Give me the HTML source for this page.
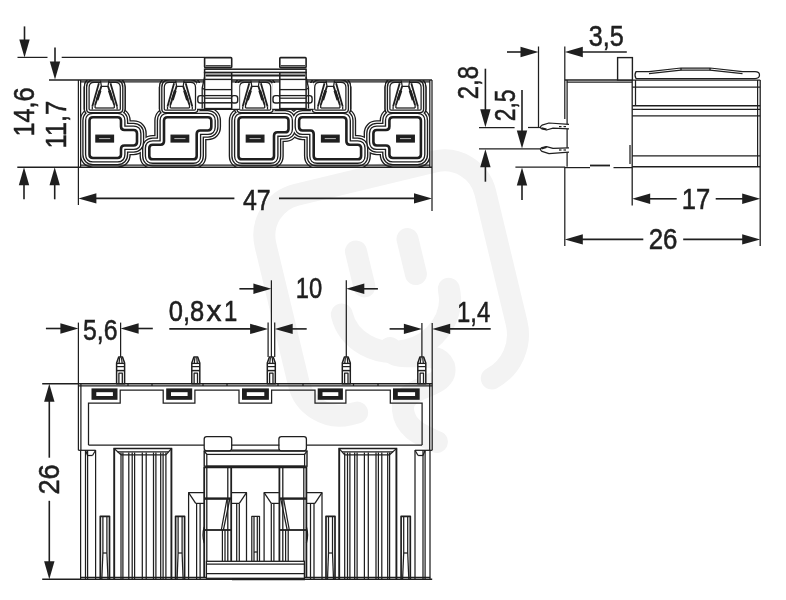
<!DOCTYPE html>
<html><head><meta charset="utf-8"><title>drawing</title>
<style>
html,body{margin:0;padding:0;background:#fff;}
body{width:786px;height:600px;overflow:hidden;}
svg{display:block;will-change:transform;filter:grayscale(1);}
text{font-family:"Liberation Sans",sans-serif;fill:#1f1f1f;stroke:#1f1f1f;stroke-width:0.55px;}
</style></head><body>
<svg width="786" height="600" viewBox="0 0 786 600">
<rect width="786" height="600" fill="#fff"/>
<g transform="translate(392,288) rotate(-13.5)" fill="none" stroke="#f3f3f3" stroke-width="22" stroke-linecap="round" stroke-linejoin="round">
<path d="M-63.0,113.0 H-71.0 A42.0,42.0 0 0 1 -113.0,71.0 V-71.0 A42.0,42.0 0 0 1 -71.0,-113.0 H71.0 A42.0,42.0 0 0 1 113.0,-71.0 V63.0 A50.0,50.0 0 0 1 75.9,111.3"/>
<path d="M-26.5,-44 V-8"/><path d="M26.5,-44 V-8"/>
<path d="M-55,14 A55,50 0 0 0 55,14"/>
</g>
<path d="M390,348 C394,366 436,346 444,366 C450,390 400,384 403,410 C405,430 424,436 437,442" fill="none" stroke="#f3f3f3" stroke-width="22" stroke-linecap="round"/>
<clipPath id="cpf"><rect x="80.60000000000001" y="80.0" width="349.20000000000005" height="87.30000000000001"/></clipPath>
<g clip-path="url(#cpf)">
<path d="M89.50,120.60 Q89.50,117.20 92.90,117.20 L117.60,117.20 Q121.00,117.20 121.00,120.60 L121.00,126.60 Q121.00,130.00 124.40,130.00 L133.60,130.00 Q137.00,130.00 137.00,133.40 L137.00,142.10 Q137.00,145.50 133.60,145.50 L124.40,145.50 Q121.00,145.50 121.00,148.90 L121.00,154.60 Q121.00,158.00 117.60,158.00 L92.90,158.00 Q89.50,158.00 89.50,154.60 Z" fill="none" stroke="#1f1f1f" stroke-width="19.55" stroke-linejoin="round" />
<path d="M164.00,120.60 Q164.00,117.20 167.40,117.20 L207.90,117.20 Q211.30,117.20 211.30,120.60 L211.30,127.10 Q211.30,130.50 207.90,130.50 L200.10,130.50 Q196.70,130.50 196.70,133.90 L196.70,155.90 Q196.70,159.30 193.30,159.30 L152.70,159.30 Q149.30,159.30 149.30,155.90 L149.30,148.10 Q149.30,144.70 152.70,144.70 L160.60,144.70 Q164.00,144.70 164.00,141.30 Z" fill="none" stroke="#1f1f1f" stroke-width="19.55" stroke-linejoin="round" />
<path d="M238.50,120.60 Q238.50,117.20 241.90,117.20 L285.10,117.20 Q288.50,117.20 288.50,120.60 L288.50,128.90 Q288.50,132.30 285.10,132.30 L277.40,132.30 Q274.00,132.30 274.00,135.70 L274.00,155.90 Q274.00,159.30 270.60,159.30 L241.90,159.30 Q238.50,159.30 238.50,155.90 Z" fill="none" stroke="#1f1f1f" stroke-width="19.55" stroke-linejoin="round" />
<path d="M346.40,141.30 Q346.40,144.70 349.80,144.70 L357.70,144.70 Q361.10,144.70 361.10,148.10 L361.10,155.90 Q361.10,159.30 357.70,159.30 L317.10,159.30 Q313.70,159.30 313.70,155.90 L313.70,133.90 Q313.70,130.50 310.30,130.50 L302.50,130.50 Q299.10,130.50 299.10,127.10 L299.10,120.60 Q299.10,117.20 302.50,117.20 L343.00,117.20 Q346.40,117.20 346.40,120.60 Z" fill="none" stroke="#1f1f1f" stroke-width="19.55" stroke-linejoin="round" />
<path d="M420.90,154.60 Q420.90,158.00 417.50,158.00 L392.80,158.00 Q389.40,158.00 389.40,154.60 L389.40,148.90 Q389.40,145.50 386.00,145.50 L376.80,145.50 Q373.40,145.50 373.40,142.10 L373.40,133.40 Q373.40,130.00 376.80,130.00 L386.00,130.00 Q389.40,130.00 389.40,126.60 L389.40,120.60 Q389.40,117.20 392.80,117.20 L417.50,117.20 Q420.90,117.20 420.90,120.60 Z" fill="none" stroke="#1f1f1f" stroke-width="19.55" stroke-linejoin="round" />
<path d="M89.10000000000001,87.3 Q89.10000000000001,82.3 94.10000000000001,82.3 H115.3 Q120.3,82.3 120.3,87.3 V109 Q120.3,110.2 119.1,110.2 H90.30000000000001 Q89.10000000000001,110.2 89.10000000000001,109 Z" fill="none" stroke="#1f1f1f" stroke-width="10.95" stroke-linejoin="round" />
<path d="M164.3,87.3 Q164.3,82.3 169.3,82.3 H190.5 Q195.5,82.3 195.5,87.3 V109 Q195.5,110.2 194.3,110.2 H165.5 Q164.3,110.2 164.3,109 Z" fill="none" stroke="#1f1f1f" stroke-width="10.95" stroke-linejoin="round" />
<path d="M239.5,87.3 Q239.5,82.3 244.5,82.3 H265.7 Q270.7,82.3 270.7,87.3 V109 Q270.7,110.2 269.5,110.2 H240.7 Q239.5,110.2 239.5,109 Z" fill="none" stroke="#1f1f1f" stroke-width="10.95" stroke-linejoin="round" />
<path d="M314.7,87.3 Q314.7,82.3 319.7,82.3 H340.90000000000003 Q345.90000000000003,82.3 345.90000000000003,87.3 V109 Q345.90000000000003,110.2 344.70000000000005,110.2 H315.9 Q314.7,110.2 314.7,109 Z" fill="none" stroke="#1f1f1f" stroke-width="10.95" stroke-linejoin="round" />
<path d="M389.9,87.3 Q389.9,82.3 394.9,82.3 H416.1 Q421.1,82.3 421.1,87.3 V109 Q421.1,110.2 419.90000000000003,110.2 H391.09999999999997 Q389.9,110.2 389.9,109 Z" fill="none" stroke="#1f1f1f" stroke-width="10.95" stroke-linejoin="round" />
<path d="M89.50,120.60 Q89.50,117.20 92.90,117.20 L117.60,117.20 Q121.00,117.20 121.00,120.60 L121.00,126.60 Q121.00,130.00 124.40,130.00 L133.60,130.00 Q137.00,130.00 137.00,133.40 L137.00,142.10 Q137.00,145.50 133.60,145.50 L124.40,145.50 Q121.00,145.50 121.00,148.90 L121.00,154.60 Q121.00,158.00 117.60,158.00 L92.90,158.00 Q89.50,158.00 89.50,154.60 Z" fill="#fff" stroke="#fff" stroke-width="16.849999999999998" stroke-linejoin="round" />
<path d="M164.00,120.60 Q164.00,117.20 167.40,117.20 L207.90,117.20 Q211.30,117.20 211.30,120.60 L211.30,127.10 Q211.30,130.50 207.90,130.50 L200.10,130.50 Q196.70,130.50 196.70,133.90 L196.70,155.90 Q196.70,159.30 193.30,159.30 L152.70,159.30 Q149.30,159.30 149.30,155.90 L149.30,148.10 Q149.30,144.70 152.70,144.70 L160.60,144.70 Q164.00,144.70 164.00,141.30 Z" fill="#fff" stroke="#fff" stroke-width="16.849999999999998" stroke-linejoin="round" />
<path d="M238.50,120.60 Q238.50,117.20 241.90,117.20 L285.10,117.20 Q288.50,117.20 288.50,120.60 L288.50,128.90 Q288.50,132.30 285.10,132.30 L277.40,132.30 Q274.00,132.30 274.00,135.70 L274.00,155.90 Q274.00,159.30 270.60,159.30 L241.90,159.30 Q238.50,159.30 238.50,155.90 Z" fill="#fff" stroke="#fff" stroke-width="16.849999999999998" stroke-linejoin="round" />
<path d="M346.40,141.30 Q346.40,144.70 349.80,144.70 L357.70,144.70 Q361.10,144.70 361.10,148.10 L361.10,155.90 Q361.10,159.30 357.70,159.30 L317.10,159.30 Q313.70,159.30 313.70,155.90 L313.70,133.90 Q313.70,130.50 310.30,130.50 L302.50,130.50 Q299.10,130.50 299.10,127.10 L299.10,120.60 Q299.10,117.20 302.50,117.20 L343.00,117.20 Q346.40,117.20 346.40,120.60 Z" fill="#fff" stroke="#fff" stroke-width="16.849999999999998" stroke-linejoin="round" />
<path d="M420.90,154.60 Q420.90,158.00 417.50,158.00 L392.80,158.00 Q389.40,158.00 389.40,154.60 L389.40,148.90 Q389.40,145.50 386.00,145.50 L376.80,145.50 Q373.40,145.50 373.40,142.10 L373.40,133.40 Q373.40,130.00 376.80,130.00 L386.00,130.00 Q389.40,130.00 389.40,126.60 L389.40,120.60 Q389.40,117.20 392.80,117.20 L417.50,117.20 Q420.90,117.20 420.90,120.60 Z" fill="#fff" stroke="#fff" stroke-width="16.849999999999998" stroke-linejoin="round" />
<path d="M89.10000000000001,87.3 Q89.10000000000001,82.3 94.10000000000001,82.3 H115.3 Q120.3,82.3 120.3,87.3 V109 Q120.3,110.2 119.1,110.2 H90.30000000000001 Q89.10000000000001,110.2 89.10000000000001,109 Z" fill="#fff" stroke="#fff" stroke-width="8.25" stroke-linejoin="round" />
<path d="M164.3,87.3 Q164.3,82.3 169.3,82.3 H190.5 Q195.5,82.3 195.5,87.3 V109 Q195.5,110.2 194.3,110.2 H165.5 Q164.3,110.2 164.3,109 Z" fill="#fff" stroke="#fff" stroke-width="8.25" stroke-linejoin="round" />
<path d="M239.5,87.3 Q239.5,82.3 244.5,82.3 H265.7 Q270.7,82.3 270.7,87.3 V109 Q270.7,110.2 269.5,110.2 H240.7 Q239.5,110.2 239.5,109 Z" fill="#fff" stroke="#fff" stroke-width="8.25" stroke-linejoin="round" />
<path d="M314.7,87.3 Q314.7,82.3 319.7,82.3 H340.90000000000003 Q345.90000000000003,82.3 345.90000000000003,87.3 V109 Q345.90000000000003,110.2 344.70000000000005,110.2 H315.9 Q314.7,110.2 314.7,109 Z" fill="#fff" stroke="#fff" stroke-width="8.25" stroke-linejoin="round" />
<path d="M389.9,87.3 Q389.9,82.3 394.9,82.3 H416.1 Q421.1,82.3 421.1,87.3 V109 Q421.1,110.2 419.90000000000003,110.2 H391.09999999999997 Q389.9,110.2 389.9,109 Z" fill="#fff" stroke="#fff" stroke-width="8.25" stroke-linejoin="round" />
<path d="M89.50,120.60 Q89.50,117.20 92.90,117.20 L117.60,117.20 Q121.00,117.20 121.00,120.60 L121.00,126.60 Q121.00,130.00 124.40,130.00 L133.60,130.00 Q137.00,130.00 137.00,133.40 L137.00,142.10 Q137.00,145.50 133.60,145.50 L124.40,145.50 Q121.00,145.50 121.00,148.90 L121.00,154.60 Q121.00,158.00 117.60,158.00 L92.90,158.00 Q89.50,158.00 89.50,154.60 Z" fill="none" stroke="#1f1f1f" stroke-width="14.549999999999999" stroke-linejoin="round" />
<path d="M164.00,120.60 Q164.00,117.20 167.40,117.20 L207.90,117.20 Q211.30,117.20 211.30,120.60 L211.30,127.10 Q211.30,130.50 207.90,130.50 L200.10,130.50 Q196.70,130.50 196.70,133.90 L196.70,155.90 Q196.70,159.30 193.30,159.30 L152.70,159.30 Q149.30,159.30 149.30,155.90 L149.30,148.10 Q149.30,144.70 152.70,144.70 L160.60,144.70 Q164.00,144.70 164.00,141.30 Z" fill="none" stroke="#1f1f1f" stroke-width="14.549999999999999" stroke-linejoin="round" />
<path d="M238.50,120.60 Q238.50,117.20 241.90,117.20 L285.10,117.20 Q288.50,117.20 288.50,120.60 L288.50,128.90 Q288.50,132.30 285.10,132.30 L277.40,132.30 Q274.00,132.30 274.00,135.70 L274.00,155.90 Q274.00,159.30 270.60,159.30 L241.90,159.30 Q238.50,159.30 238.50,155.90 Z" fill="none" stroke="#1f1f1f" stroke-width="14.549999999999999" stroke-linejoin="round" />
<path d="M346.40,141.30 Q346.40,144.70 349.80,144.70 L357.70,144.70 Q361.10,144.70 361.10,148.10 L361.10,155.90 Q361.10,159.30 357.70,159.30 L317.10,159.30 Q313.70,159.30 313.70,155.90 L313.70,133.90 Q313.70,130.50 310.30,130.50 L302.50,130.50 Q299.10,130.50 299.10,127.10 L299.10,120.60 Q299.10,117.20 302.50,117.20 L343.00,117.20 Q346.40,117.20 346.40,120.60 Z" fill="none" stroke="#1f1f1f" stroke-width="14.549999999999999" stroke-linejoin="round" />
<path d="M420.90,154.60 Q420.90,158.00 417.50,158.00 L392.80,158.00 Q389.40,158.00 389.40,154.60 L389.40,148.90 Q389.40,145.50 386.00,145.50 L376.80,145.50 Q373.40,145.50 373.40,142.10 L373.40,133.40 Q373.40,130.00 376.80,130.00 L386.00,130.00 Q389.40,130.00 389.40,126.60 L389.40,120.60 Q389.40,117.20 392.80,117.20 L417.50,117.20 Q420.90,117.20 420.90,120.60 Z" fill="none" stroke="#1f1f1f" stroke-width="14.549999999999999" stroke-linejoin="round" />
<path d="M89.10000000000001,87.3 Q89.10000000000001,82.3 94.10000000000001,82.3 H115.3 Q120.3,82.3 120.3,87.3 V109 Q120.3,110.2 119.1,110.2 H90.30000000000001 Q89.10000000000001,110.2 89.10000000000001,109 Z" fill="none" stroke="#1f1f1f" stroke-width="10.95" stroke-linejoin="round" />
<path d="M164.3,87.3 Q164.3,82.3 169.3,82.3 H190.5 Q195.5,82.3 195.5,87.3 V109 Q195.5,110.2 194.3,110.2 H165.5 Q164.3,110.2 164.3,109 Z" fill="none" stroke="#1f1f1f" stroke-width="10.95" stroke-linejoin="round" />
<path d="M239.5,87.3 Q239.5,82.3 244.5,82.3 H265.7 Q270.7,82.3 270.7,87.3 V109 Q270.7,110.2 269.5,110.2 H240.7 Q239.5,110.2 239.5,109 Z" fill="none" stroke="#1f1f1f" stroke-width="10.95" stroke-linejoin="round" />
<path d="M314.7,87.3 Q314.7,82.3 319.7,82.3 H340.90000000000003 Q345.90000000000003,82.3 345.90000000000003,87.3 V109 Q345.90000000000003,110.2 344.70000000000005,110.2 H315.9 Q314.7,110.2 314.7,109 Z" fill="none" stroke="#1f1f1f" stroke-width="10.95" stroke-linejoin="round" />
<path d="M389.9,87.3 Q389.9,82.3 394.9,82.3 H416.1 Q421.1,82.3 421.1,87.3 V109 Q421.1,110.2 419.90000000000003,110.2 H391.09999999999997 Q389.9,110.2 389.9,109 Z" fill="none" stroke="#1f1f1f" stroke-width="10.95" stroke-linejoin="round" />
<path d="M89.50,120.60 Q89.50,117.20 92.90,117.20 L117.60,117.20 Q121.00,117.20 121.00,120.60 L121.00,126.60 Q121.00,130.00 124.40,130.00 L133.60,130.00 Q137.00,130.00 137.00,133.40 L137.00,142.10 Q137.00,145.50 133.60,145.50 L124.40,145.50 Q121.00,145.50 121.00,148.90 L121.00,154.60 Q121.00,158.00 117.60,158.00 L92.90,158.00 Q89.50,158.00 89.50,154.60 Z" fill="#fff" stroke="#fff" stroke-width="11.85" stroke-linejoin="round" />
<path d="M164.00,120.60 Q164.00,117.20 167.40,117.20 L207.90,117.20 Q211.30,117.20 211.30,120.60 L211.30,127.10 Q211.30,130.50 207.90,130.50 L200.10,130.50 Q196.70,130.50 196.70,133.90 L196.70,155.90 Q196.70,159.30 193.30,159.30 L152.70,159.30 Q149.30,159.30 149.30,155.90 L149.30,148.10 Q149.30,144.70 152.70,144.70 L160.60,144.70 Q164.00,144.70 164.00,141.30 Z" fill="#fff" stroke="#fff" stroke-width="11.85" stroke-linejoin="round" />
<path d="M238.50,120.60 Q238.50,117.20 241.90,117.20 L285.10,117.20 Q288.50,117.20 288.50,120.60 L288.50,128.90 Q288.50,132.30 285.10,132.30 L277.40,132.30 Q274.00,132.30 274.00,135.70 L274.00,155.90 Q274.00,159.30 270.60,159.30 L241.90,159.30 Q238.50,159.30 238.50,155.90 Z" fill="#fff" stroke="#fff" stroke-width="11.85" stroke-linejoin="round" />
<path d="M346.40,141.30 Q346.40,144.70 349.80,144.70 L357.70,144.70 Q361.10,144.70 361.10,148.10 L361.10,155.90 Q361.10,159.30 357.70,159.30 L317.10,159.30 Q313.70,159.30 313.70,155.90 L313.70,133.90 Q313.70,130.50 310.30,130.50 L302.50,130.50 Q299.10,130.50 299.10,127.10 L299.10,120.60 Q299.10,117.20 302.50,117.20 L343.00,117.20 Q346.40,117.20 346.40,120.60 Z" fill="#fff" stroke="#fff" stroke-width="11.85" stroke-linejoin="round" />
<path d="M420.90,154.60 Q420.90,158.00 417.50,158.00 L392.80,158.00 Q389.40,158.00 389.40,154.60 L389.40,148.90 Q389.40,145.50 386.00,145.50 L376.80,145.50 Q373.40,145.50 373.40,142.10 L373.40,133.40 Q373.40,130.00 376.80,130.00 L386.00,130.00 Q389.40,130.00 389.40,126.60 L389.40,120.60 Q389.40,117.20 392.80,117.20 L417.50,117.20 Q420.90,117.20 420.90,120.60 Z" fill="#fff" stroke="#fff" stroke-width="11.85" stroke-linejoin="round" />
<path d="M89.10000000000001,87.3 Q89.10000000000001,82.3 94.10000000000001,82.3 H115.3 Q120.3,82.3 120.3,87.3 V109 Q120.3,110.2 119.1,110.2 H90.30000000000001 Q89.10000000000001,110.2 89.10000000000001,109 Z" fill="#fff" stroke="#fff" stroke-width="8.25" stroke-linejoin="round" />
<path d="M164.3,87.3 Q164.3,82.3 169.3,82.3 H190.5 Q195.5,82.3 195.5,87.3 V109 Q195.5,110.2 194.3,110.2 H165.5 Q164.3,110.2 164.3,109 Z" fill="#fff" stroke="#fff" stroke-width="8.25" stroke-linejoin="round" />
<path d="M239.5,87.3 Q239.5,82.3 244.5,82.3 H265.7 Q270.7,82.3 270.7,87.3 V109 Q270.7,110.2 269.5,110.2 H240.7 Q239.5,110.2 239.5,109 Z" fill="#fff" stroke="#fff" stroke-width="8.25" stroke-linejoin="round" />
<path d="M314.7,87.3 Q314.7,82.3 319.7,82.3 H340.90000000000003 Q345.90000000000003,82.3 345.90000000000003,87.3 V109 Q345.90000000000003,110.2 344.70000000000005,110.2 H315.9 Q314.7,110.2 314.7,109 Z" fill="#fff" stroke="#fff" stroke-width="8.25" stroke-linejoin="round" />
<path d="M389.9,87.3 Q389.9,82.3 394.9,82.3 H416.1 Q421.1,82.3 421.1,87.3 V109 Q421.1,110.2 419.90000000000003,110.2 H391.09999999999997 Q389.9,110.2 389.9,109 Z" fill="#fff" stroke="#fff" stroke-width="8.25" stroke-linejoin="round" />
<path d="M89.50,120.60 Q89.50,117.20 92.90,117.20 L117.60,117.20 Q121.00,117.20 121.00,120.60 L121.00,126.60 Q121.00,130.00 124.40,130.00 L133.60,130.00 Q137.00,130.00 137.00,133.40 L137.00,142.10 Q137.00,145.50 133.60,145.50 L124.40,145.50 Q121.00,145.50 121.00,148.90 L121.00,154.60 Q121.00,158.00 117.60,158.00 L92.90,158.00 Q89.50,158.00 89.50,154.60 Z" fill="none" stroke="#1f1f1f" stroke-width="9.15" stroke-linejoin="round" />
<path d="M164.00,120.60 Q164.00,117.20 167.40,117.20 L207.90,117.20 Q211.30,117.20 211.30,120.60 L211.30,127.10 Q211.30,130.50 207.90,130.50 L200.10,130.50 Q196.70,130.50 196.70,133.90 L196.70,155.90 Q196.70,159.30 193.30,159.30 L152.70,159.30 Q149.30,159.30 149.30,155.90 L149.30,148.10 Q149.30,144.70 152.70,144.70 L160.60,144.70 Q164.00,144.70 164.00,141.30 Z" fill="none" stroke="#1f1f1f" stroke-width="9.15" stroke-linejoin="round" />
<path d="M238.50,120.60 Q238.50,117.20 241.90,117.20 L285.10,117.20 Q288.50,117.20 288.50,120.60 L288.50,128.90 Q288.50,132.30 285.10,132.30 L277.40,132.30 Q274.00,132.30 274.00,135.70 L274.00,155.90 Q274.00,159.30 270.60,159.30 L241.90,159.30 Q238.50,159.30 238.50,155.90 Z" fill="none" stroke="#1f1f1f" stroke-width="9.15" stroke-linejoin="round" />
<path d="M346.40,141.30 Q346.40,144.70 349.80,144.70 L357.70,144.70 Q361.10,144.70 361.10,148.10 L361.10,155.90 Q361.10,159.30 357.70,159.30 L317.10,159.30 Q313.70,159.30 313.70,155.90 L313.70,133.90 Q313.70,130.50 310.30,130.50 L302.50,130.50 Q299.10,130.50 299.10,127.10 L299.10,120.60 Q299.10,117.20 302.50,117.20 L343.00,117.20 Q346.40,117.20 346.40,120.60 Z" fill="none" stroke="#1f1f1f" stroke-width="9.15" stroke-linejoin="round" />
<path d="M420.90,154.60 Q420.90,158.00 417.50,158.00 L392.80,158.00 Q389.40,158.00 389.40,154.60 L389.40,148.90 Q389.40,145.50 386.00,145.50 L376.80,145.50 Q373.40,145.50 373.40,142.10 L373.40,133.40 Q373.40,130.00 376.80,130.00 L386.00,130.00 Q389.40,130.00 389.40,126.60 L389.40,120.60 Q389.40,117.20 392.80,117.20 L417.50,117.20 Q420.90,117.20 420.90,120.60 Z" fill="none" stroke="#1f1f1f" stroke-width="9.15" stroke-linejoin="round" />
<path d="M89.10000000000001,87.3 Q89.10000000000001,82.3 94.10000000000001,82.3 H115.3 Q120.3,82.3 120.3,87.3 V109 Q120.3,110.2 119.1,110.2 H90.30000000000001 Q89.10000000000001,110.2 89.10000000000001,109 Z" fill="none" stroke="#1f1f1f" stroke-width="6.35" stroke-linejoin="round" />
<path d="M164.3,87.3 Q164.3,82.3 169.3,82.3 H190.5 Q195.5,82.3 195.5,87.3 V109 Q195.5,110.2 194.3,110.2 H165.5 Q164.3,110.2 164.3,109 Z" fill="none" stroke="#1f1f1f" stroke-width="6.35" stroke-linejoin="round" />
<path d="M239.5,87.3 Q239.5,82.3 244.5,82.3 H265.7 Q270.7,82.3 270.7,87.3 V109 Q270.7,110.2 269.5,110.2 H240.7 Q239.5,110.2 239.5,109 Z" fill="none" stroke="#1f1f1f" stroke-width="6.35" stroke-linejoin="round" />
<path d="M314.7,87.3 Q314.7,82.3 319.7,82.3 H340.90000000000003 Q345.90000000000003,82.3 345.90000000000003,87.3 V109 Q345.90000000000003,110.2 344.70000000000005,110.2 H315.9 Q314.7,110.2 314.7,109 Z" fill="none" stroke="#1f1f1f" stroke-width="6.35" stroke-linejoin="round" />
<path d="M389.9,87.3 Q389.9,82.3 394.9,82.3 H416.1 Q421.1,82.3 421.1,87.3 V109 Q421.1,110.2 419.90000000000003,110.2 H391.09999999999997 Q389.9,110.2 389.9,109 Z" fill="none" stroke="#1f1f1f" stroke-width="6.35" stroke-linejoin="round" />
<path d="M89.50,120.60 Q89.50,117.20 92.90,117.20 L117.60,117.20 Q121.00,117.20 121.00,120.60 L121.00,126.60 Q121.00,130.00 124.40,130.00 L133.60,130.00 Q137.00,130.00 137.00,133.40 L137.00,142.10 Q137.00,145.50 133.60,145.50 L124.40,145.50 Q121.00,145.50 121.00,148.90 L121.00,154.60 Q121.00,158.00 117.60,158.00 L92.90,158.00 Q89.50,158.00 89.50,154.60 Z" fill="#fff" stroke="#fff" stroke-width="6.449999999999999" stroke-linejoin="round" />
<path d="M164.00,120.60 Q164.00,117.20 167.40,117.20 L207.90,117.20 Q211.30,117.20 211.30,120.60 L211.30,127.10 Q211.30,130.50 207.90,130.50 L200.10,130.50 Q196.70,130.50 196.70,133.90 L196.70,155.90 Q196.70,159.30 193.30,159.30 L152.70,159.30 Q149.30,159.30 149.30,155.90 L149.30,148.10 Q149.30,144.70 152.70,144.70 L160.60,144.70 Q164.00,144.70 164.00,141.30 Z" fill="#fff" stroke="#fff" stroke-width="6.449999999999999" stroke-linejoin="round" />
<path d="M238.50,120.60 Q238.50,117.20 241.90,117.20 L285.10,117.20 Q288.50,117.20 288.50,120.60 L288.50,128.90 Q288.50,132.30 285.10,132.30 L277.40,132.30 Q274.00,132.30 274.00,135.70 L274.00,155.90 Q274.00,159.30 270.60,159.30 L241.90,159.30 Q238.50,159.30 238.50,155.90 Z" fill="#fff" stroke="#fff" stroke-width="6.449999999999999" stroke-linejoin="round" />
<path d="M346.40,141.30 Q346.40,144.70 349.80,144.70 L357.70,144.70 Q361.10,144.70 361.10,148.10 L361.10,155.90 Q361.10,159.30 357.70,159.30 L317.10,159.30 Q313.70,159.30 313.70,155.90 L313.70,133.90 Q313.70,130.50 310.30,130.50 L302.50,130.50 Q299.10,130.50 299.10,127.10 L299.10,120.60 Q299.10,117.20 302.50,117.20 L343.00,117.20 Q346.40,117.20 346.40,120.60 Z" fill="#fff" stroke="#fff" stroke-width="6.449999999999999" stroke-linejoin="round" />
<path d="M420.90,154.60 Q420.90,158.00 417.50,158.00 L392.80,158.00 Q389.40,158.00 389.40,154.60 L389.40,148.90 Q389.40,145.50 386.00,145.50 L376.80,145.50 Q373.40,145.50 373.40,142.10 L373.40,133.40 Q373.40,130.00 376.80,130.00 L386.00,130.00 Q389.40,130.00 389.40,126.60 L389.40,120.60 Q389.40,117.20 392.80,117.20 L417.50,117.20 Q420.90,117.20 420.90,120.60 Z" fill="#fff" stroke="#fff" stroke-width="6.449999999999999" stroke-linejoin="round" />
<path d="M89.10000000000001,87.3 Q89.10000000000001,82.3 94.10000000000001,82.3 H115.3 Q120.3,82.3 120.3,87.3 V109 Q120.3,110.2 119.1,110.2 H90.30000000000001 Q89.10000000000001,110.2 89.10000000000001,109 Z" fill="#fff" stroke="#fff" stroke-width="3.65" stroke-linejoin="round" />
<path d="M164.3,87.3 Q164.3,82.3 169.3,82.3 H190.5 Q195.5,82.3 195.5,87.3 V109 Q195.5,110.2 194.3,110.2 H165.5 Q164.3,110.2 164.3,109 Z" fill="#fff" stroke="#fff" stroke-width="3.65" stroke-linejoin="round" />
<path d="M239.5,87.3 Q239.5,82.3 244.5,82.3 H265.7 Q270.7,82.3 270.7,87.3 V109 Q270.7,110.2 269.5,110.2 H240.7 Q239.5,110.2 239.5,109 Z" fill="#fff" stroke="#fff" stroke-width="3.65" stroke-linejoin="round" />
<path d="M314.7,87.3 Q314.7,82.3 319.7,82.3 H340.90000000000003 Q345.90000000000003,82.3 345.90000000000003,87.3 V109 Q345.90000000000003,110.2 344.70000000000005,110.2 H315.9 Q314.7,110.2 314.7,109 Z" fill="#fff" stroke="#fff" stroke-width="3.65" stroke-linejoin="round" />
<path d="M389.9,87.3 Q389.9,82.3 394.9,82.3 H416.1 Q421.1,82.3 421.1,87.3 V109 Q421.1,110.2 419.90000000000003,110.2 H391.09999999999997 Q389.9,110.2 389.9,109 Z" fill="#fff" stroke="#fff" stroke-width="3.65" stroke-linejoin="round" />
</g>
<path d="M89.10000000000001,87.3 Q89.10000000000001,82.3 94.10000000000001,82.3 H115.3 Q120.3,82.3 120.3,87.3 V109 Q120.3,110.2 119.1,110.2 H90.30000000000001 Q89.10000000000001,110.2 89.10000000000001,109 Z" fill="#fff" stroke="#1f1f1f" stroke-width="1.25" stroke-linejoin="round" />
<path d="M164.3,87.3 Q164.3,82.3 169.3,82.3 H190.5 Q195.5,82.3 195.5,87.3 V109 Q195.5,110.2 194.3,110.2 H165.5 Q164.3,110.2 164.3,109 Z" fill="#fff" stroke="#1f1f1f" stroke-width="1.25" stroke-linejoin="round" />
<path d="M239.5,87.3 Q239.5,82.3 244.5,82.3 H265.7 Q270.7,82.3 270.7,87.3 V109 Q270.7,110.2 269.5,110.2 H240.7 Q239.5,110.2 239.5,109 Z" fill="#fff" stroke="#1f1f1f" stroke-width="1.25" stroke-linejoin="round" />
<path d="M314.7,87.3 Q314.7,82.3 319.7,82.3 H340.90000000000003 Q345.90000000000003,82.3 345.90000000000003,87.3 V109 Q345.90000000000003,110.2 344.70000000000005,110.2 H315.9 Q314.7,110.2 314.7,109 Z" fill="#fff" stroke="#1f1f1f" stroke-width="1.25" stroke-linejoin="round" />
<path d="M389.9,87.3 Q389.9,82.3 394.9,82.3 H416.1 Q421.1,82.3 421.1,87.3 V109 Q421.1,110.2 419.90000000000003,110.2 H391.09999999999997 Q389.9,110.2 389.9,109 Z" fill="#fff" stroke="#1f1f1f" stroke-width="1.25" stroke-linejoin="round" />
<path d="M89.50,120.60 Q89.50,117.20 92.90,117.20 L117.60,117.20 Q121.00,117.20 121.00,120.60 L121.00,126.60 Q121.00,130.00 124.40,130.00 L133.60,130.00 Q137.00,130.00 137.00,133.40 L137.00,142.10 Q137.00,145.50 133.60,145.50 L124.40,145.50 Q121.00,145.50 121.00,148.90 L121.00,154.60 Q121.00,158.00 117.60,158.00 L92.90,158.00 Q89.50,158.00 89.50,154.60 Z" fill="#fff" stroke="#1f1f1f" stroke-width="2.6" stroke-linejoin="round" />
<path d="M164.00,120.60 Q164.00,117.20 167.40,117.20 L207.90,117.20 Q211.30,117.20 211.30,120.60 L211.30,127.10 Q211.30,130.50 207.90,130.50 L200.10,130.50 Q196.70,130.50 196.70,133.90 L196.70,155.90 Q196.70,159.30 193.30,159.30 L152.70,159.30 Q149.30,159.30 149.30,155.90 L149.30,148.10 Q149.30,144.70 152.70,144.70 L160.60,144.70 Q164.00,144.70 164.00,141.30 Z" fill="#fff" stroke="#1f1f1f" stroke-width="2.6" stroke-linejoin="round" />
<path d="M238.50,120.60 Q238.50,117.20 241.90,117.20 L285.10,117.20 Q288.50,117.20 288.50,120.60 L288.50,128.90 Q288.50,132.30 285.10,132.30 L277.40,132.30 Q274.00,132.30 274.00,135.70 L274.00,155.90 Q274.00,159.30 270.60,159.30 L241.90,159.30 Q238.50,159.30 238.50,155.90 Z" fill="#fff" stroke="#1f1f1f" stroke-width="2.6" stroke-linejoin="round" />
<path d="M346.40,141.30 Q346.40,144.70 349.80,144.70 L357.70,144.70 Q361.10,144.70 361.10,148.10 L361.10,155.90 Q361.10,159.30 357.70,159.30 L317.10,159.30 Q313.70,159.30 313.70,155.90 L313.70,133.90 Q313.70,130.50 310.30,130.50 L302.50,130.50 Q299.10,130.50 299.10,127.10 L299.10,120.60 Q299.10,117.20 302.50,117.20 L343.00,117.20 Q346.40,117.20 346.40,120.60 Z" fill="#fff" stroke="#1f1f1f" stroke-width="2.6" stroke-linejoin="round" />
<path d="M420.90,154.60 Q420.90,158.00 417.50,158.00 L392.80,158.00 Q389.40,158.00 389.40,154.60 L389.40,148.90 Q389.40,145.50 386.00,145.50 L376.80,145.50 Q373.40,145.50 373.40,142.10 L373.40,133.40 Q373.40,130.00 376.80,130.00 L386.00,130.00 Q389.40,130.00 389.40,126.60 L389.40,120.60 Q389.40,117.20 392.80,117.20 L417.50,117.20 Q420.90,117.20 420.90,120.60 Z" fill="#fff" stroke="#1f1f1f" stroke-width="2.6" stroke-linejoin="round" />
<path d="M100.50,80.50 L101.40,86.30 L108.00,86.30 L108.90,80.50" fill="#fff" stroke="#1f1f1f" stroke-width="1.25" stroke-linejoin="round" />
<line x1="98.90" y1="83.20" x2="92.30" y2="106.50" stroke="#1f1f1f" stroke-width="1.8" stroke-linecap="butt"/>
<line x1="101.40" y1="86.30" x2="95.10" y2="105.00" stroke="#1f1f1f" stroke-width="1.9" stroke-linecap="butt"/>
<line x1="100.10" y1="90.50" x2="97.10" y2="100.00" stroke="#1f1f1f" stroke-width="2.8" stroke-linecap="butt"/>
<line x1="92.30" y1="106.50" x2="92.30" y2="109.50" stroke="#1f1f1f" stroke-width="1.25" stroke-linecap="butt"/>
<line x1="95.10" y1="105.00" x2="95.10" y2="108.00" stroke="#1f1f1f" stroke-width="1.25" stroke-linecap="butt"/>
<line x1="110.50" y1="83.20" x2="117.10" y2="106.50" stroke="#1f1f1f" stroke-width="1.8" stroke-linecap="butt"/>
<line x1="108.00" y1="86.30" x2="114.30" y2="105.00" stroke="#1f1f1f" stroke-width="1.9" stroke-linecap="butt"/>
<line x1="109.30" y1="90.50" x2="112.30" y2="100.00" stroke="#1f1f1f" stroke-width="2.8" stroke-linecap="butt"/>
<line x1="117.10" y1="106.50" x2="117.10" y2="109.50" stroke="#1f1f1f" stroke-width="1.25" stroke-linecap="butt"/>
<line x1="114.30" y1="105.00" x2="114.30" y2="108.00" stroke="#1f1f1f" stroke-width="1.25" stroke-linecap="butt"/>
<line x1="95.10" y1="108.00" x2="114.30" y2="108.00" stroke="#1f1f1f" stroke-width="1.25" stroke-linecap="butt"/>
<rect x="95.90" y="135.20" width="17.60" height="6.80" rx="0" fill="#1f1f1f" stroke="#1f1f1f" stroke-width="1.25"/>
<line x1="98.50" y1="138.60" x2="110.90" y2="138.60" stroke="#ccc" stroke-width="0.9" stroke-linecap="butt"/>
<line x1="98.50" y1="137.20" x2="98.50" y2="140.00" stroke="#1f1f1f" stroke-width="1.25" stroke-linecap="butt"/>
<line x1="110.90" y1="137.20" x2="110.90" y2="140.00" stroke="#1f1f1f" stroke-width="1.25" stroke-linecap="butt"/>
<path d="M175.70,80.50 L176.60,86.30 L183.20,86.30 L184.10,80.50" fill="#fff" stroke="#1f1f1f" stroke-width="1.25" stroke-linejoin="round" />
<line x1="174.10" y1="83.20" x2="167.50" y2="106.50" stroke="#1f1f1f" stroke-width="1.8" stroke-linecap="butt"/>
<line x1="176.60" y1="86.30" x2="170.30" y2="105.00" stroke="#1f1f1f" stroke-width="1.9" stroke-linecap="butt"/>
<line x1="175.30" y1="90.50" x2="172.30" y2="100.00" stroke="#1f1f1f" stroke-width="2.8" stroke-linecap="butt"/>
<line x1="167.50" y1="106.50" x2="167.50" y2="109.50" stroke="#1f1f1f" stroke-width="1.25" stroke-linecap="butt"/>
<line x1="170.30" y1="105.00" x2="170.30" y2="108.00" stroke="#1f1f1f" stroke-width="1.25" stroke-linecap="butt"/>
<line x1="185.70" y1="83.20" x2="192.30" y2="106.50" stroke="#1f1f1f" stroke-width="1.8" stroke-linecap="butt"/>
<line x1="183.20" y1="86.30" x2="189.50" y2="105.00" stroke="#1f1f1f" stroke-width="1.9" stroke-linecap="butt"/>
<line x1="184.50" y1="90.50" x2="187.50" y2="100.00" stroke="#1f1f1f" stroke-width="2.8" stroke-linecap="butt"/>
<line x1="192.30" y1="106.50" x2="192.30" y2="109.50" stroke="#1f1f1f" stroke-width="1.25" stroke-linecap="butt"/>
<line x1="189.50" y1="105.00" x2="189.50" y2="108.00" stroke="#1f1f1f" stroke-width="1.25" stroke-linecap="butt"/>
<line x1="170.30" y1="108.00" x2="189.50" y2="108.00" stroke="#1f1f1f" stroke-width="1.25" stroke-linecap="butt"/>
<rect x="171.10" y="135.20" width="17.60" height="6.80" rx="0" fill="#1f1f1f" stroke="#1f1f1f" stroke-width="1.25"/>
<line x1="173.70" y1="138.60" x2="186.10" y2="138.60" stroke="#ccc" stroke-width="0.9" stroke-linecap="butt"/>
<line x1="173.70" y1="137.20" x2="173.70" y2="140.00" stroke="#1f1f1f" stroke-width="1.25" stroke-linecap="butt"/>
<line x1="186.10" y1="137.20" x2="186.10" y2="140.00" stroke="#1f1f1f" stroke-width="1.25" stroke-linecap="butt"/>
<path d="M250.90,80.50 L251.80,86.30 L258.40,86.30 L259.30,80.50" fill="#fff" stroke="#1f1f1f" stroke-width="1.25" stroke-linejoin="round" />
<line x1="249.30" y1="83.20" x2="242.70" y2="106.50" stroke="#1f1f1f" stroke-width="1.8" stroke-linecap="butt"/>
<line x1="251.80" y1="86.30" x2="245.50" y2="105.00" stroke="#1f1f1f" stroke-width="1.9" stroke-linecap="butt"/>
<line x1="250.50" y1="90.50" x2="247.50" y2="100.00" stroke="#1f1f1f" stroke-width="2.8" stroke-linecap="butt"/>
<line x1="242.70" y1="106.50" x2="242.70" y2="109.50" stroke="#1f1f1f" stroke-width="1.25" stroke-linecap="butt"/>
<line x1="245.50" y1="105.00" x2="245.50" y2="108.00" stroke="#1f1f1f" stroke-width="1.25" stroke-linecap="butt"/>
<line x1="260.90" y1="83.20" x2="267.50" y2="106.50" stroke="#1f1f1f" stroke-width="1.8" stroke-linecap="butt"/>
<line x1="258.40" y1="86.30" x2="264.70" y2="105.00" stroke="#1f1f1f" stroke-width="1.9" stroke-linecap="butt"/>
<line x1="259.70" y1="90.50" x2="262.70" y2="100.00" stroke="#1f1f1f" stroke-width="2.8" stroke-linecap="butt"/>
<line x1="267.50" y1="106.50" x2="267.50" y2="109.50" stroke="#1f1f1f" stroke-width="1.25" stroke-linecap="butt"/>
<line x1="264.70" y1="105.00" x2="264.70" y2="108.00" stroke="#1f1f1f" stroke-width="1.25" stroke-linecap="butt"/>
<line x1="245.50" y1="108.00" x2="264.70" y2="108.00" stroke="#1f1f1f" stroke-width="1.25" stroke-linecap="butt"/>
<rect x="246.30" y="135.20" width="17.60" height="6.80" rx="0" fill="#1f1f1f" stroke="#1f1f1f" stroke-width="1.25"/>
<line x1="248.90" y1="138.60" x2="261.30" y2="138.60" stroke="#ccc" stroke-width="0.9" stroke-linecap="butt"/>
<line x1="248.90" y1="137.20" x2="248.90" y2="140.00" stroke="#1f1f1f" stroke-width="1.25" stroke-linecap="butt"/>
<line x1="261.30" y1="137.20" x2="261.30" y2="140.00" stroke="#1f1f1f" stroke-width="1.25" stroke-linecap="butt"/>
<path d="M326.10,80.50 L327.00,86.30 L333.60,86.30 L334.50,80.50" fill="#fff" stroke="#1f1f1f" stroke-width="1.25" stroke-linejoin="round" />
<line x1="324.50" y1="83.20" x2="317.90" y2="106.50" stroke="#1f1f1f" stroke-width="1.8" stroke-linecap="butt"/>
<line x1="327.00" y1="86.30" x2="320.70" y2="105.00" stroke="#1f1f1f" stroke-width="1.9" stroke-linecap="butt"/>
<line x1="325.70" y1="90.50" x2="322.70" y2="100.00" stroke="#1f1f1f" stroke-width="2.8" stroke-linecap="butt"/>
<line x1="317.90" y1="106.50" x2="317.90" y2="109.50" stroke="#1f1f1f" stroke-width="1.25" stroke-linecap="butt"/>
<line x1="320.70" y1="105.00" x2="320.70" y2="108.00" stroke="#1f1f1f" stroke-width="1.25" stroke-linecap="butt"/>
<line x1="336.10" y1="83.20" x2="342.70" y2="106.50" stroke="#1f1f1f" stroke-width="1.8" stroke-linecap="butt"/>
<line x1="333.60" y1="86.30" x2="339.90" y2="105.00" stroke="#1f1f1f" stroke-width="1.9" stroke-linecap="butt"/>
<line x1="334.90" y1="90.50" x2="337.90" y2="100.00" stroke="#1f1f1f" stroke-width="2.8" stroke-linecap="butt"/>
<line x1="342.70" y1="106.50" x2="342.70" y2="109.50" stroke="#1f1f1f" stroke-width="1.25" stroke-linecap="butt"/>
<line x1="339.90" y1="105.00" x2="339.90" y2="108.00" stroke="#1f1f1f" stroke-width="1.25" stroke-linecap="butt"/>
<line x1="320.70" y1="108.00" x2="339.90" y2="108.00" stroke="#1f1f1f" stroke-width="1.25" stroke-linecap="butt"/>
<rect x="321.50" y="135.20" width="17.60" height="6.80" rx="0" fill="#1f1f1f" stroke="#1f1f1f" stroke-width="1.25"/>
<line x1="324.10" y1="138.60" x2="336.50" y2="138.60" stroke="#ccc" stroke-width="0.9" stroke-linecap="butt"/>
<line x1="324.10" y1="137.20" x2="324.10" y2="140.00" stroke="#1f1f1f" stroke-width="1.25" stroke-linecap="butt"/>
<line x1="336.50" y1="137.20" x2="336.50" y2="140.00" stroke="#1f1f1f" stroke-width="1.25" stroke-linecap="butt"/>
<path d="M401.30,80.50 L402.20,86.30 L408.80,86.30 L409.70,80.50" fill="#fff" stroke="#1f1f1f" stroke-width="1.25" stroke-linejoin="round" />
<line x1="399.70" y1="83.20" x2="393.10" y2="106.50" stroke="#1f1f1f" stroke-width="1.8" stroke-linecap="butt"/>
<line x1="402.20" y1="86.30" x2="395.90" y2="105.00" stroke="#1f1f1f" stroke-width="1.9" stroke-linecap="butt"/>
<line x1="400.90" y1="90.50" x2="397.90" y2="100.00" stroke="#1f1f1f" stroke-width="2.8" stroke-linecap="butt"/>
<line x1="393.10" y1="106.50" x2="393.10" y2="109.50" stroke="#1f1f1f" stroke-width="1.25" stroke-linecap="butt"/>
<line x1="395.90" y1="105.00" x2="395.90" y2="108.00" stroke="#1f1f1f" stroke-width="1.25" stroke-linecap="butt"/>
<line x1="411.30" y1="83.20" x2="417.90" y2="106.50" stroke="#1f1f1f" stroke-width="1.8" stroke-linecap="butt"/>
<line x1="408.80" y1="86.30" x2="415.10" y2="105.00" stroke="#1f1f1f" stroke-width="1.9" stroke-linecap="butt"/>
<line x1="410.10" y1="90.50" x2="413.10" y2="100.00" stroke="#1f1f1f" stroke-width="2.8" stroke-linecap="butt"/>
<line x1="417.90" y1="106.50" x2="417.90" y2="109.50" stroke="#1f1f1f" stroke-width="1.25" stroke-linecap="butt"/>
<line x1="415.10" y1="105.00" x2="415.10" y2="108.00" stroke="#1f1f1f" stroke-width="1.25" stroke-linecap="butt"/>
<line x1="395.90" y1="108.00" x2="415.10" y2="108.00" stroke="#1f1f1f" stroke-width="1.25" stroke-linecap="butt"/>
<rect x="396.70" y="135.20" width="17.60" height="6.80" rx="0" fill="#1f1f1f" stroke="#1f1f1f" stroke-width="1.25"/>
<line x1="399.30" y1="138.60" x2="411.70" y2="138.60" stroke="#ccc" stroke-width="0.9" stroke-linecap="butt"/>
<line x1="399.30" y1="137.20" x2="399.30" y2="140.00" stroke="#1f1f1f" stroke-width="1.25" stroke-linecap="butt"/>
<line x1="411.70" y1="137.20" x2="411.70" y2="140.00" stroke="#1f1f1f" stroke-width="1.25" stroke-linecap="butt"/>
<line x1="49.00" y1="80.00" x2="432.00" y2="80.00" stroke="#1f1f1f" stroke-width="1.3" stroke-linecap="butt"/>
<line x1="80.40" y1="81.90" x2="430.00" y2="81.90" stroke="#1f1f1f" stroke-width="1.25" stroke-linecap="butt"/>
<line x1="78.40" y1="80.00" x2="78.40" y2="205.00" stroke="#1f1f1f" stroke-width="1.25" stroke-linecap="butt"/>
<line x1="80.60" y1="80.00" x2="80.60" y2="167.30" stroke="#1f1f1f" stroke-width="1.25" stroke-linecap="butt"/>
<line x1="432.00" y1="80.00" x2="432.00" y2="211.00" stroke="#1f1f1f" stroke-width="1.25" stroke-linecap="butt"/>
<line x1="429.80" y1="80.00" x2="429.80" y2="167.30" stroke="#1f1f1f" stroke-width="1.25" stroke-linecap="butt"/>
<line x1="17.30" y1="167.30" x2="432.00" y2="167.30" stroke="#1f1f1f" stroke-width="1.4" stroke-linecap="butt"/>
<line x1="80.40" y1="165.10" x2="430.00" y2="165.10" stroke="#1f1f1f" stroke-width="1.25" stroke-linecap="butt"/>
<line x1="17.50" y1="57.40" x2="47.50" y2="57.40" stroke="#1f1f1f" stroke-width="1.25" stroke-linecap="butt"/>
<line x1="61.70" y1="57.40" x2="205.00" y2="57.40" stroke="#1f1f1f" stroke-width="1.3" stroke-linecap="butt"/>
<rect x="197.00" y="83" width="42.30" height="26.4" fill="#fff"/>
<line x1="197.00" y1="109.40" x2="239.30" y2="109.40" stroke="#1f1f1f" stroke-width="1.25" stroke-linecap="butt"/>
<rect x="204.60" y="57.60" width="27.10" height="10.00" rx="0.8" fill="#fff" stroke="#1f1f1f" stroke-width="1.6"/>
<line x1="205.60" y1="65.80" x2="230.70" y2="65.80" stroke="#1f1f1f" stroke-width="1.25" stroke-linecap="butt"/>
<rect x="197.80" y="95.60" width="7.30" height="7.40" rx="2.6" fill="#fff" stroke="#1f1f1f" stroke-width="1.4"/>
<rect x="231.20" y="95.60" width="6.50" height="7.40" rx="2.6" fill="#fff" stroke="#1f1f1f" stroke-width="1.4"/>
<rect x="204.60" y="72.60" width="27.10" height="36.00" rx="0" fill="#fff" stroke="#1f1f1f" stroke-width="1.5"/>
<line x1="204.60" y1="79.40" x2="231.70" y2="79.40" stroke="#1f1f1f" stroke-width="1.4" stroke-linecap="butt"/>
<line x1="204.60" y1="89.60" x2="231.70" y2="89.60" stroke="#1f1f1f" stroke-width="1.3" stroke-linecap="butt"/>
<line x1="204.60" y1="95.60" x2="231.70" y2="95.60" stroke="#1f1f1f" stroke-width="1.3" stroke-linecap="butt"/>
<line x1="204.60" y1="98.20" x2="231.70" y2="98.20" stroke="#1f1f1f" stroke-width="1.25" stroke-linecap="butt"/>
<line x1="204.60" y1="102.80" x2="231.70" y2="102.80" stroke="#1f1f1f" stroke-width="1.5" stroke-linecap="butt"/>
<path d="M204.6,77 L202.2,88 V108.6" fill="none" stroke="#1f1f1f" stroke-width="1.3" stroke-linejoin="round" />
<line x1="204.60" y1="89.60" x2="202.20" y2="88.00" stroke="#1f1f1f" stroke-width="1.25" stroke-linecap="butt"/>
<rect x="272.20" y="83" width="41.50" height="26.4" fill="#fff"/>
<line x1="272.20" y1="109.40" x2="313.70" y2="109.40" stroke="#1f1f1f" stroke-width="1.25" stroke-linecap="butt"/>
<rect x="279.80" y="57.60" width="26.30" height="10.00" rx="0.8" fill="#fff" stroke="#1f1f1f" stroke-width="1.6"/>
<line x1="280.80" y1="65.80" x2="305.10" y2="65.80" stroke="#1f1f1f" stroke-width="1.25" stroke-linecap="butt"/>
<rect x="273.00" y="95.60" width="7.30" height="7.40" rx="2.6" fill="#fff" stroke="#1f1f1f" stroke-width="1.4"/>
<rect x="305.60" y="95.60" width="6.50" height="7.40" rx="2.6" fill="#fff" stroke="#1f1f1f" stroke-width="1.4"/>
<rect x="279.80" y="72.60" width="26.30" height="36.00" rx="0" fill="#fff" stroke="#1f1f1f" stroke-width="1.5"/>
<line x1="279.80" y1="79.40" x2="306.10" y2="79.40" stroke="#1f1f1f" stroke-width="1.4" stroke-linecap="butt"/>
<line x1="279.80" y1="89.60" x2="306.10" y2="89.60" stroke="#1f1f1f" stroke-width="1.3" stroke-linecap="butt"/>
<line x1="279.80" y1="95.60" x2="306.10" y2="95.60" stroke="#1f1f1f" stroke-width="1.3" stroke-linecap="butt"/>
<line x1="279.80" y1="98.20" x2="306.10" y2="98.20" stroke="#1f1f1f" stroke-width="1.25" stroke-linecap="butt"/>
<line x1="279.80" y1="102.80" x2="306.10" y2="102.80" stroke="#1f1f1f" stroke-width="1.5" stroke-linecap="butt"/>
<path d="M306.1,77 L308.5,88 V108.6" fill="none" stroke="#1f1f1f" stroke-width="1.3" stroke-linejoin="round" />
<line x1="306.10" y1="89.60" x2="308.50" y2="88.00" stroke="#1f1f1f" stroke-width="1.25" stroke-linecap="butt"/>
<rect x="204.60" y="69.20" width="101.50" height="3.20" rx="0" fill="#fff" stroke="#1f1f1f" stroke-width="1.5"/>
<line x1="205.50" y1="75.60" x2="305.20" y2="75.60" stroke="#1f1f1f" stroke-width="2.0" stroke-linecap="butt"/>
<polygon points="24.5,57.4 19.3,39.4 29.7,39.4" fill="#1f1f1f"/>
<line x1="24.50" y1="40.40" x2="24.50" y2="26.40" stroke="#1f1f1f" stroke-width="1.6" stroke-linecap="butt"/>
<polygon points="55,79.6 49.8,61.599999999999994 60.2,61.599999999999994" fill="#1f1f1f"/>
<line x1="55.00" y1="62.60" x2="55.00" y2="47.60" stroke="#1f1f1f" stroke-width="1.6" stroke-linecap="butt"/>
<polygon points="24,167.3 18.8,185.3 29.2,185.3" fill="#1f1f1f"/>
<line x1="24.00" y1="184.30" x2="24.00" y2="199.30" stroke="#1f1f1f" stroke-width="1.6" stroke-linecap="butt"/>
<polygon points="54.7,167.3 49.5,185.3 59.900000000000006,185.3" fill="#1f1f1f"/>
<line x1="54.70" y1="184.30" x2="54.70" y2="199.30" stroke="#1f1f1f" stroke-width="1.6" stroke-linecap="butt"/>
<text transform="translate(34.00,136.50) rotate(-90)" x="0" y="0" font-size="29" textLength="49.00" lengthAdjust="spacingAndGlyphs">14,6</text>
<text transform="translate(65.70,148.50) rotate(-90)" x="0" y="0" font-size="29" textLength="47.70" lengthAdjust="spacingAndGlyphs">11,7</text>
<polygon points="78.4,198.4 96.4,193.20000000000002 96.4,203.6" fill="#1f1f1f"/>
<line x1="95.40" y1="198.40" x2="234.40" y2="198.40" stroke="#1f1f1f" stroke-width="1.6" stroke-linecap="butt"/>
<polygon points="432.0,198.4 414.0,193.20000000000002 414.0,203.6" fill="#1f1f1f"/>
<line x1="415.00" y1="198.40" x2="279.00" y2="198.40" stroke="#1f1f1f" stroke-width="1.6" stroke-linecap="butt"/>
<text x="243.00" y="209.70" font-size="29" textLength="27.70" lengthAdjust="spacingAndGlyphs">47</text>
<line x1="564.80" y1="46.50" x2="564.80" y2="119.00" stroke="#1f1f1f" stroke-width="1.25" stroke-linecap="butt"/>
<line x1="564.80" y1="166.80" x2="564.80" y2="246.00" stroke="#1f1f1f" stroke-width="1.25" stroke-linecap="butt"/>
<line x1="567.10" y1="80.00" x2="567.10" y2="166.80" stroke="#1f1f1f" stroke-width="1.25" stroke-linecap="butt"/>
<line x1="564.80" y1="80.00" x2="632.20" y2="80.00" stroke="#1f1f1f" stroke-width="1.4" stroke-linecap="butt"/>
<line x1="566.80" y1="82.00" x2="632.20" y2="82.00" stroke="#1f1f1f" stroke-width="1.25" stroke-linecap="butt"/>
<line x1="564.80" y1="167.60" x2="590.00" y2="167.60" stroke="#1f1f1f" stroke-width="1.25" stroke-linecap="butt"/>
<line x1="590.00" y1="165.50" x2="610.00" y2="165.50" stroke="#1f1f1f" stroke-width="1.8" stroke-linecap="butt"/>
<line x1="613.50" y1="167.60" x2="632.20" y2="167.60" stroke="#1f1f1f" stroke-width="1.25" stroke-linecap="butt"/>
<line x1="632.20" y1="80.00" x2="632.20" y2="205.50" stroke="#1f1f1f" stroke-width="1.3" stroke-linecap="butt"/>
<line x1="635.50" y1="80.00" x2="635.50" y2="106.00" stroke="#1f1f1f" stroke-width="1.25" stroke-linecap="butt"/>
<line x1="630.00" y1="145.00" x2="630.00" y2="164.00" stroke="#1f1f1f" stroke-width="1.25" stroke-linecap="butt"/>
<rect x="617.60" y="57.60" width="14.80" height="22.40" rx="0" fill="#fff" stroke="#1f1f1f" stroke-width="1.4"/>
<line x1="632.20" y1="80.00" x2="760.20" y2="80.00" stroke="#1f1f1f" stroke-width="1.25" stroke-linecap="butt"/>
<line x1="632.20" y1="87.20" x2="760.20" y2="87.20" stroke="#1f1f1f" stroke-width="1.25" stroke-linecap="butt"/>
<line x1="632.20" y1="105.80" x2="760.20" y2="105.80" stroke="#1f1f1f" stroke-width="1.6" stroke-linecap="butt"/>
<line x1="632.20" y1="109.40" x2="760.20" y2="109.40" stroke="#1f1f1f" stroke-width="1.25" stroke-linecap="butt"/>
<line x1="632.20" y1="115.80" x2="760.20" y2="115.80" stroke="#1f1f1f" stroke-width="1.25" stroke-linecap="butt"/>
<line x1="632.20" y1="155.90" x2="760.20" y2="155.90" stroke="#1f1f1f" stroke-width="1.25" stroke-linecap="butt"/>
<line x1="632.20" y1="166.80" x2="760.20" y2="166.80" stroke="#1f1f1f" stroke-width="1.4" stroke-linecap="butt"/>
<line x1="760.20" y1="80.00" x2="760.20" y2="246.00" stroke="#1f1f1f" stroke-width="1.3" stroke-linecap="butt"/>
<line x1="757.60" y1="80.00" x2="757.60" y2="166.80" stroke="#1f1f1f" stroke-width="1.25" stroke-linecap="butt"/>
<path d="M636,71.6 L649,71.6 L681,68 L710,68 L742.5,71.6 L755,71.6 Q759.5,71.6 759.5,75 Q759.5,78.5 755,78.5 L636,78.5 Q634,75 636,71.6 Z" fill="#fff" stroke="#1f1f1f" stroke-width="1.25" stroke-linejoin="round" />
<path d="M649,73.6 L681,70.2 L710,70.2 L742.5,73.6" fill="none" stroke="#1f1f1f" stroke-width="1.25" stroke-linejoin="round" />
<line x1="681.00" y1="68.00" x2="681.00" y2="70.20" stroke="#1f1f1f" stroke-width="1.25" stroke-linecap="butt"/>
<line x1="710.00" y1="68.00" x2="710.00" y2="70.20" stroke="#1f1f1f" stroke-width="1.25" stroke-linecap="butt"/>
<path d="M569,124.4 L549,123.0 L542,125.2 Q538.8,127.4 542,129.0 L546.5,130.0 L553,128.20000000000002 L569,128.8" fill="#fff" stroke="#1f1f1f" stroke-width="1.25" stroke-linejoin="round" />
<line x1="541.50" y1="128.00" x2="546.50" y2="129.40" stroke="#1f1f1f" stroke-width="1.8" stroke-linecap="butt"/>
<line x1="559.00" y1="126.60" x2="561.50" y2="126.60" stroke="#1f1f1f" stroke-width="1.25" stroke-linecap="butt"/>
<line x1="563.50" y1="126.60" x2="566.00" y2="126.60" stroke="#1f1f1f" stroke-width="1.25" stroke-linecap="butt"/>
<path d="M569,152.2 L549,153.6 L542,151.39999999999998 Q538.8,149.2 542,147.6 L546.5,146.6 L553,148.39999999999998 L569,147.79999999999998" fill="#fff" stroke="#1f1f1f" stroke-width="1.25" stroke-linejoin="round" />
<line x1="541.50" y1="148.60" x2="546.50" y2="147.20" stroke="#1f1f1f" stroke-width="1.8" stroke-linecap="butt"/>
<line x1="559.00" y1="150.00" x2="561.50" y2="150.00" stroke="#1f1f1f" stroke-width="1.25" stroke-linecap="butt"/>
<line x1="563.50" y1="150.00" x2="566.00" y2="150.00" stroke="#1f1f1f" stroke-width="1.25" stroke-linecap="butt"/>
<line x1="479.00" y1="127.50" x2="514.60" y2="127.50" stroke="#1f1f1f" stroke-width="1.25" stroke-linecap="butt"/>
<line x1="528.00" y1="127.50" x2="540.00" y2="127.50" stroke="#1f1f1f" stroke-width="1.25" stroke-linecap="butt"/>
<line x1="479.00" y1="148.90" x2="540.00" y2="148.90" stroke="#1f1f1f" stroke-width="1.25" stroke-linecap="butt"/>
<line x1="515.40" y1="167.20" x2="564.80" y2="167.20" stroke="#1f1f1f" stroke-width="1.25" stroke-linecap="butt"/>
<line x1="538.50" y1="46.50" x2="538.50" y2="127.00" stroke="#1f1f1f" stroke-width="1.25" stroke-linecap="butt"/>
<polygon points="538.5,52 520.5,46.8 520.5,57.2" fill="#1f1f1f"/>
<line x1="521.50" y1="52.00" x2="507.00" y2="52.00" stroke="#1f1f1f" stroke-width="1.6" stroke-linecap="butt"/>
<polygon points="564.8,52 582.8,46.8 582.8,57.2" fill="#1f1f1f"/>
<line x1="581.80" y1="52.00" x2="626.80" y2="52.00" stroke="#1f1f1f" stroke-width="1.6" stroke-linecap="butt"/>
<polygon points="485.4,127.2 480.2,109.2 490.59999999999997,109.2" fill="#1f1f1f"/>
<line x1="485.40" y1="110.20" x2="485.40" y2="68.70" stroke="#1f1f1f" stroke-width="1.6" stroke-linecap="butt"/>
<polygon points="485.4,149.2 480.2,167.2 490.59999999999997,167.2" fill="#1f1f1f"/>
<line x1="485.40" y1="166.20" x2="485.40" y2="181.70" stroke="#1f1f1f" stroke-width="1.6" stroke-linecap="butt"/>
<polygon points="522,148.6 516.8,130.6 527.2,130.6" fill="#1f1f1f"/>
<line x1="522.00" y1="131.60" x2="522.00" y2="90.10" stroke="#1f1f1f" stroke-width="1.6" stroke-linecap="butt"/>
<polygon points="522,167.5 516.8,185.5 527.2,185.5" fill="#1f1f1f"/>
<line x1="522.00" y1="184.50" x2="522.00" y2="200.00" stroke="#1f1f1f" stroke-width="1.6" stroke-linecap="butt"/>
<text x="588.70" y="46.40" font-size="29" textLength="35.00" lengthAdjust="spacingAndGlyphs">3,5</text>
<text transform="translate(477.60,99.20) rotate(-90)" x="0" y="0" font-size="29" textLength="33.20" lengthAdjust="spacingAndGlyphs">2,8</text>
<text transform="translate(515.00,121.20) rotate(-90)" x="0" y="0" font-size="29" textLength="31.80" lengthAdjust="spacingAndGlyphs">2,5</text>
<polygon points="632.2,198.8 650.2,193.60000000000002 650.2,204.0" fill="#1f1f1f"/>
<line x1="649.20" y1="198.80" x2="676.70" y2="198.80" stroke="#1f1f1f" stroke-width="1.6" stroke-linecap="butt"/>
<polygon points="760.2,198.8 742.2,193.60000000000002 742.2,204.0" fill="#1f1f1f"/>
<line x1="743.20" y1="198.80" x2="715.70" y2="198.80" stroke="#1f1f1f" stroke-width="1.6" stroke-linecap="butt"/>
<text x="681.80" y="208.80" font-size="29" textLength="28.50" lengthAdjust="spacingAndGlyphs">17</text>
<polygon points="564.8,239.4 582.8,234.20000000000002 582.8,244.6" fill="#1f1f1f"/>
<line x1="581.80" y1="239.40" x2="643.30" y2="239.40" stroke="#1f1f1f" stroke-width="1.6" stroke-linecap="butt"/>
<polygon points="760.2,239.4 742.2,234.20000000000002 742.2,244.6" fill="#1f1f1f"/>
<line x1="743.20" y1="239.40" x2="683.20" y2="239.40" stroke="#1f1f1f" stroke-width="1.6" stroke-linecap="butt"/>
<text x="648.70" y="249.40" font-size="29" textLength="28.80" lengthAdjust="spacingAndGlyphs">26</text>
<path d="M118.70,357.00 L122.50,357.00 L124.60,363.00 L124.60,383.70 L116.60,383.70 L116.60,363.00 Z" fill="#fff" stroke="#1f1f1f" stroke-width="1.5" stroke-linejoin="round" />
<line x1="116.60" y1="363.40" x2="124.60" y2="363.40" stroke="#1f1f1f" stroke-width="1.3" stroke-linecap="butt"/>
<line x1="116.60" y1="366.60" x2="124.60" y2="366.60" stroke="#1f1f1f" stroke-width="1.25" stroke-linecap="butt"/>
<line x1="116.60" y1="370.60" x2="124.60" y2="370.60" stroke="#1f1f1f" stroke-width="1.5" stroke-linecap="butt"/>
<path d="M118.90,383.70 L118.90,373.20 L122.30,373.20 L122.30,383.70" fill="none" stroke="#1f1f1f" stroke-width="1.3" stroke-linejoin="round" />
<line x1="119.70" y1="357.50" x2="119.10" y2="363.00" stroke="#1f1f1f" stroke-width="1.25" stroke-linecap="butt"/>
<line x1="121.50" y1="357.50" x2="122.10" y2="363.00" stroke="#1f1f1f" stroke-width="1.25" stroke-linecap="butt"/>
<path d="M193.90,357.00 L197.70,357.00 L199.80,363.00 L199.80,383.70 L191.80,383.70 L191.80,363.00 Z" fill="#fff" stroke="#1f1f1f" stroke-width="1.5" stroke-linejoin="round" />
<line x1="191.80" y1="363.40" x2="199.80" y2="363.40" stroke="#1f1f1f" stroke-width="1.3" stroke-linecap="butt"/>
<line x1="191.80" y1="366.60" x2="199.80" y2="366.60" stroke="#1f1f1f" stroke-width="1.25" stroke-linecap="butt"/>
<line x1="191.80" y1="370.60" x2="199.80" y2="370.60" stroke="#1f1f1f" stroke-width="1.5" stroke-linecap="butt"/>
<path d="M194.10,383.70 L194.10,373.20 L197.50,373.20 L197.50,383.70" fill="none" stroke="#1f1f1f" stroke-width="1.3" stroke-linejoin="round" />
<line x1="194.90" y1="357.50" x2="194.30" y2="363.00" stroke="#1f1f1f" stroke-width="1.25" stroke-linecap="butt"/>
<line x1="196.70" y1="357.50" x2="197.30" y2="363.00" stroke="#1f1f1f" stroke-width="1.25" stroke-linecap="butt"/>
<path d="M269.40,357.00 L273.20,357.00 L275.30,363.00 L275.30,383.70 L267.30,383.70 L267.30,363.00 Z" fill="#fff" stroke="#1f1f1f" stroke-width="1.5" stroke-linejoin="round" />
<line x1="267.30" y1="363.40" x2="275.30" y2="363.40" stroke="#1f1f1f" stroke-width="1.3" stroke-linecap="butt"/>
<line x1="267.30" y1="366.60" x2="275.30" y2="366.60" stroke="#1f1f1f" stroke-width="1.25" stroke-linecap="butt"/>
<line x1="267.30" y1="370.60" x2="275.30" y2="370.60" stroke="#1f1f1f" stroke-width="1.5" stroke-linecap="butt"/>
<path d="M269.60,383.70 L269.60,373.20 L273.00,373.20 L273.00,383.70" fill="none" stroke="#1f1f1f" stroke-width="1.3" stroke-linejoin="round" />
<line x1="270.40" y1="357.50" x2="269.80" y2="363.00" stroke="#1f1f1f" stroke-width="1.25" stroke-linecap="butt"/>
<line x1="272.20" y1="357.50" x2="272.80" y2="363.00" stroke="#1f1f1f" stroke-width="1.25" stroke-linecap="butt"/>
<path d="M344.40,357.00 L348.20,357.00 L350.30,363.00 L350.30,383.70 L342.30,383.70 L342.30,363.00 Z" fill="#fff" stroke="#1f1f1f" stroke-width="1.5" stroke-linejoin="round" />
<line x1="342.30" y1="363.40" x2="350.30" y2="363.40" stroke="#1f1f1f" stroke-width="1.3" stroke-linecap="butt"/>
<line x1="342.30" y1="366.60" x2="350.30" y2="366.60" stroke="#1f1f1f" stroke-width="1.25" stroke-linecap="butt"/>
<line x1="342.30" y1="370.60" x2="350.30" y2="370.60" stroke="#1f1f1f" stroke-width="1.5" stroke-linecap="butt"/>
<path d="M344.60,383.70 L344.60,373.20 L348.00,373.20 L348.00,383.70" fill="none" stroke="#1f1f1f" stroke-width="1.3" stroke-linejoin="round" />
<line x1="345.40" y1="357.50" x2="344.80" y2="363.00" stroke="#1f1f1f" stroke-width="1.25" stroke-linecap="butt"/>
<line x1="347.20" y1="357.50" x2="347.80" y2="363.00" stroke="#1f1f1f" stroke-width="1.25" stroke-linecap="butt"/>
<path d="M419.90,357.00 L423.70,357.00 L425.80,363.00 L425.80,383.70 L417.80,383.70 L417.80,363.00 Z" fill="#fff" stroke="#1f1f1f" stroke-width="1.5" stroke-linejoin="round" />
<line x1="417.80" y1="363.40" x2="425.80" y2="363.40" stroke="#1f1f1f" stroke-width="1.3" stroke-linecap="butt"/>
<line x1="417.80" y1="366.60" x2="425.80" y2="366.60" stroke="#1f1f1f" stroke-width="1.25" stroke-linecap="butt"/>
<line x1="417.80" y1="370.60" x2="425.80" y2="370.60" stroke="#1f1f1f" stroke-width="1.5" stroke-linecap="butt"/>
<path d="M420.10,383.70 L420.10,373.20 L423.50,373.20 L423.50,383.70" fill="none" stroke="#1f1f1f" stroke-width="1.3" stroke-linejoin="round" />
<line x1="420.90" y1="357.50" x2="420.30" y2="363.00" stroke="#1f1f1f" stroke-width="1.25" stroke-linecap="butt"/>
<line x1="422.70" y1="357.50" x2="423.30" y2="363.00" stroke="#1f1f1f" stroke-width="1.25" stroke-linecap="butt"/>
<line x1="42.20" y1="383.70" x2="432.20" y2="383.70" stroke="#1f1f1f" stroke-width="1.4" stroke-linecap="butt"/>
<line x1="78.40" y1="385.90" x2="432.20" y2="385.90" stroke="#1f1f1f" stroke-width="1.25" stroke-linecap="butt"/>
<line x1="128.00" y1="383.70" x2="128.00" y2="385.90" stroke="#1f1f1f" stroke-width="1.25" stroke-linecap="butt"/>
<line x1="152.00" y1="383.70" x2="152.00" y2="385.90" stroke="#1f1f1f" stroke-width="1.25" stroke-linecap="butt"/>
<line x1="203.00" y1="383.70" x2="203.00" y2="385.90" stroke="#1f1f1f" stroke-width="1.25" stroke-linecap="butt"/>
<line x1="227.00" y1="383.70" x2="227.00" y2="385.90" stroke="#1f1f1f" stroke-width="1.25" stroke-linecap="butt"/>
<line x1="278.00" y1="383.70" x2="278.00" y2="385.90" stroke="#1f1f1f" stroke-width="1.25" stroke-linecap="butt"/>
<line x1="303.00" y1="383.70" x2="303.00" y2="385.90" stroke="#1f1f1f" stroke-width="1.25" stroke-linecap="butt"/>
<line x1="353.50" y1="383.70" x2="353.50" y2="385.90" stroke="#1f1f1f" stroke-width="1.25" stroke-linecap="butt"/>
<line x1="378.00" y1="383.70" x2="378.00" y2="385.90" stroke="#1f1f1f" stroke-width="1.25" stroke-linecap="butt"/>
<line x1="78.40" y1="322.60" x2="78.40" y2="450.30" stroke="#1f1f1f" stroke-width="1.25" stroke-linecap="butt"/>
<line x1="80.90" y1="383.70" x2="80.90" y2="450.30" stroke="#1f1f1f" stroke-width="1.25" stroke-linecap="butt"/>
<line x1="432.20" y1="323.00" x2="432.20" y2="450.30" stroke="#1f1f1f" stroke-width="1.25" stroke-linecap="butt"/>
<line x1="429.70" y1="383.70" x2="429.70" y2="450.30" stroke="#1f1f1f" stroke-width="1.25" stroke-linecap="butt"/>
<rect x="91.50" y="388.4" width="26.00" height="11.4" fill="#1f1f1f"/>
<rect x="96.30" y="392.2" width="16.60" height="3.8" fill="#fff"/>
<rect x="166.20" y="388.4" width="26.00" height="11.4" fill="#1f1f1f"/>
<rect x="171.00" y="392.2" width="16.60" height="3.8" fill="#fff"/>
<rect x="242.00" y="388.4" width="26.90" height="11.4" fill="#1f1f1f"/>
<rect x="246.80" y="392.2" width="17.50" height="3.8" fill="#fff"/>
<rect x="317.70" y="388.4" width="25.20" height="11.4" fill="#1f1f1f"/>
<rect x="322.50" y="392.2" width="15.80" height="3.8" fill="#fff"/>
<rect x="393.00" y="388.4" width="26.70" height="11.4" fill="#1f1f1f"/>
<rect x="397.80" y="392.2" width="17.30" height="3.8" fill="#fff"/>
<path d="M88.5,445.1 V403 H120.2 V390 H163.2 V403 H194.9 V390 H239.0 V403 H271.6 V390 H315.0 V403 H345.9 V390 H390.3 V403 H422.1 V445.1" fill="none" stroke="#1f1f1f" stroke-width="1.25" stroke-linejoin="miter" />
<line x1="88.50" y1="445.10" x2="204.20" y2="445.10" stroke="#1f1f1f" stroke-width="1.3" stroke-linecap="butt"/>
<line x1="306.40" y1="445.10" x2="422.10" y2="445.10" stroke="#1f1f1f" stroke-width="1.3" stroke-linecap="butt"/>
<line x1="42.20" y1="579.30" x2="432.20" y2="579.30" stroke="#1f1f1f" stroke-width="1.5" stroke-linecap="butt"/>
<line x1="80.40" y1="577.30" x2="430.20" y2="577.30" stroke="#1f1f1f" stroke-width="1.25" stroke-linecap="butt"/>
<line x1="78.40" y1="450.30" x2="95.60" y2="450.30" stroke="#1f1f1f" stroke-width="1.25" stroke-linecap="butt"/>
<line x1="80.60" y1="450.30" x2="80.60" y2="579.30" stroke="#1f1f1f" stroke-width="1.25" stroke-linecap="butt"/>
<line x1="85.50" y1="450.30" x2="85.50" y2="579.30" stroke="#1f1f1f" stroke-width="1.25" stroke-linecap="butt"/>
<line x1="87.60" y1="450.30" x2="87.60" y2="579.30" stroke="#1f1f1f" stroke-width="1.25" stroke-linecap="butt"/>
<line x1="95.60" y1="450.30" x2="95.60" y2="579.30" stroke="#1f1f1f" stroke-width="1.25" stroke-linecap="butt"/>
<line x1="85.50" y1="450.30" x2="87.60" y2="455.50" stroke="#1f1f1f" stroke-width="1.25" stroke-linecap="butt"/>
<line x1="95.60" y1="450.30" x2="92.50" y2="455.50" stroke="#1f1f1f" stroke-width="1.25" stroke-linecap="butt"/>
<line x1="87.60" y1="455.50" x2="92.50" y2="455.50" stroke="#1f1f1f" stroke-width="1.25" stroke-linecap="butt"/>
<line x1="432.20" y1="450.30" x2="415.00" y2="450.30" stroke="#1f1f1f" stroke-width="1.25" stroke-linecap="butt"/>
<line x1="430.00" y1="450.30" x2="430.00" y2="579.30" stroke="#1f1f1f" stroke-width="1.25" stroke-linecap="butt"/>
<line x1="425.10" y1="450.30" x2="425.10" y2="579.30" stroke="#1f1f1f" stroke-width="1.25" stroke-linecap="butt"/>
<line x1="423.00" y1="450.30" x2="423.00" y2="579.30" stroke="#1f1f1f" stroke-width="1.25" stroke-linecap="butt"/>
<line x1="415.00" y1="450.30" x2="415.00" y2="579.30" stroke="#1f1f1f" stroke-width="1.25" stroke-linecap="butt"/>
<line x1="425.10" y1="450.30" x2="423.00" y2="455.50" stroke="#1f1f1f" stroke-width="1.25" stroke-linecap="butt"/>
<line x1="415.00" y1="450.30" x2="418.10" y2="455.50" stroke="#1f1f1f" stroke-width="1.25" stroke-linecap="butt"/>
<line x1="423.00" y1="455.50" x2="418.10" y2="455.50" stroke="#1f1f1f" stroke-width="1.25" stroke-linecap="butt"/>
<line x1="113.40" y1="448.50" x2="172.20" y2="448.50" stroke="#1f1f1f" stroke-width="1.7" stroke-linecap="butt"/>
<line x1="121.00" y1="454.80" x2="165.90" y2="454.80" stroke="#1f1f1f" stroke-width="1.25" stroke-linecap="butt"/>
<line x1="117.50" y1="451.80" x2="168.50" y2="451.80" stroke="#1f1f1f" stroke-width="1.25" stroke-linecap="butt"/>
<line x1="114.20" y1="448.60" x2="121.00" y2="454.80" stroke="#1f1f1f" stroke-width="1.25" stroke-linecap="butt"/>
<line x1="171.40" y1="448.60" x2="165.90" y2="454.80" stroke="#1f1f1f" stroke-width="1.25" stroke-linecap="butt"/>
<line x1="114.20" y1="448.50" x2="114.20" y2="579.30" stroke="#1f1f1f" stroke-width="1.9" stroke-linecap="butt"/>
<line x1="121.00" y1="452.50" x2="121.00" y2="579.30" stroke="#1f1f1f" stroke-width="1.25" stroke-linecap="butt"/>
<line x1="122.90" y1="452.50" x2="122.90" y2="579.30" stroke="#1f1f1f" stroke-width="1.25" stroke-linecap="butt"/>
<line x1="128.80" y1="452.50" x2="128.80" y2="579.30" stroke="#1f1f1f" stroke-width="1.25" stroke-linecap="butt"/>
<line x1="132.20" y1="452.50" x2="132.20" y2="579.30" stroke="#1f1f1f" stroke-width="1.25" stroke-linecap="butt"/>
<line x1="134.60" y1="452.50" x2="134.60" y2="579.30" stroke="#1f1f1f" stroke-width="1.25" stroke-linecap="butt"/>
<line x1="142.30" y1="452.50" x2="142.30" y2="579.30" stroke="#1f1f1f" stroke-width="1.25" stroke-linecap="butt"/>
<line x1="146.20" y1="452.50" x2="146.20" y2="579.30" stroke="#1f1f1f" stroke-width="1.25" stroke-linecap="butt"/>
<line x1="153.50" y1="452.50" x2="153.50" y2="579.30" stroke="#1f1f1f" stroke-width="1.25" stroke-linecap="butt"/>
<line x1="155.90" y1="452.50" x2="155.90" y2="579.30" stroke="#1f1f1f" stroke-width="1.25" stroke-linecap="butt"/>
<line x1="160.70" y1="452.50" x2="160.70" y2="579.30" stroke="#1f1f1f" stroke-width="1.25" stroke-linecap="butt"/>
<line x1="163.10" y1="452.50" x2="163.10" y2="579.30" stroke="#1f1f1f" stroke-width="1.25" stroke-linecap="butt"/>
<line x1="165.90" y1="452.50" x2="165.90" y2="579.30" stroke="#1f1f1f" stroke-width="1.25" stroke-linecap="butt"/>
<line x1="171.40" y1="448.50" x2="171.40" y2="579.30" stroke="#1f1f1f" stroke-width="1.9" stroke-linecap="butt"/>
<line x1="397.20" y1="448.50" x2="338.40" y2="448.50" stroke="#1f1f1f" stroke-width="1.7" stroke-linecap="butt"/>
<line x1="389.60" y1="454.80" x2="344.70" y2="454.80" stroke="#1f1f1f" stroke-width="1.25" stroke-linecap="butt"/>
<line x1="393.10" y1="451.80" x2="342.10" y2="451.80" stroke="#1f1f1f" stroke-width="1.25" stroke-linecap="butt"/>
<line x1="396.40" y1="448.60" x2="389.60" y2="454.80" stroke="#1f1f1f" stroke-width="1.25" stroke-linecap="butt"/>
<line x1="339.20" y1="448.60" x2="344.70" y2="454.80" stroke="#1f1f1f" stroke-width="1.25" stroke-linecap="butt"/>
<line x1="396.40" y1="448.50" x2="396.40" y2="579.30" stroke="#1f1f1f" stroke-width="1.9" stroke-linecap="butt"/>
<line x1="389.60" y1="452.50" x2="389.60" y2="579.30" stroke="#1f1f1f" stroke-width="1.25" stroke-linecap="butt"/>
<line x1="387.70" y1="452.50" x2="387.70" y2="579.30" stroke="#1f1f1f" stroke-width="1.25" stroke-linecap="butt"/>
<line x1="381.80" y1="452.50" x2="381.80" y2="579.30" stroke="#1f1f1f" stroke-width="1.25" stroke-linecap="butt"/>
<line x1="378.40" y1="452.50" x2="378.40" y2="579.30" stroke="#1f1f1f" stroke-width="1.25" stroke-linecap="butt"/>
<line x1="376.00" y1="452.50" x2="376.00" y2="579.30" stroke="#1f1f1f" stroke-width="1.25" stroke-linecap="butt"/>
<line x1="368.30" y1="452.50" x2="368.30" y2="579.30" stroke="#1f1f1f" stroke-width="1.25" stroke-linecap="butt"/>
<line x1="364.40" y1="452.50" x2="364.40" y2="579.30" stroke="#1f1f1f" stroke-width="1.25" stroke-linecap="butt"/>
<line x1="357.10" y1="452.50" x2="357.10" y2="579.30" stroke="#1f1f1f" stroke-width="1.25" stroke-linecap="butt"/>
<line x1="354.70" y1="452.50" x2="354.70" y2="579.30" stroke="#1f1f1f" stroke-width="1.25" stroke-linecap="butt"/>
<line x1="349.90" y1="452.50" x2="349.90" y2="579.30" stroke="#1f1f1f" stroke-width="1.25" stroke-linecap="butt"/>
<line x1="347.50" y1="452.50" x2="347.50" y2="579.30" stroke="#1f1f1f" stroke-width="1.25" stroke-linecap="butt"/>
<line x1="344.70" y1="452.50" x2="344.70" y2="579.30" stroke="#1f1f1f" stroke-width="1.25" stroke-linecap="butt"/>
<line x1="339.20" y1="448.50" x2="339.20" y2="579.30" stroke="#1f1f1f" stroke-width="1.9" stroke-linecap="butt"/>
<path d="M100.30,579.30 L100.30,516.30 L109.50,516.30 L109.50,579.30" fill="none" stroke="#1f1f1f" stroke-width="1.7" stroke-linejoin="round" />
<line x1="102.90" y1="553.00" x2="106.90" y2="553.00" stroke="#1f1f1f" stroke-width="1.25" stroke-linecap="butt"/>
<line x1="102.90" y1="553.00" x2="101.80" y2="579.30" stroke="#1f1f1f" stroke-width="1.25" stroke-linecap="butt"/>
<line x1="106.90" y1="553.00" x2="108.00" y2="579.30" stroke="#1f1f1f" stroke-width="1.25" stroke-linecap="butt"/>
<line x1="102.90" y1="517.00" x2="102.90" y2="553.00" stroke="#1f1f1f" stroke-width="1.25" stroke-linecap="butt"/>
<line x1="106.90" y1="517.00" x2="106.90" y2="553.00" stroke="#1f1f1f" stroke-width="1.25" stroke-linecap="butt"/>
<path d="M175.60,579.30 L175.60,516.30 L184.60,516.30 L184.60,579.30" fill="none" stroke="#1f1f1f" stroke-width="1.7" stroke-linejoin="round" />
<line x1="178.10" y1="553.00" x2="182.10" y2="553.00" stroke="#1f1f1f" stroke-width="1.25" stroke-linecap="butt"/>
<line x1="178.10" y1="553.00" x2="177.10" y2="579.30" stroke="#1f1f1f" stroke-width="1.25" stroke-linecap="butt"/>
<line x1="182.10" y1="553.00" x2="183.10" y2="579.30" stroke="#1f1f1f" stroke-width="1.25" stroke-linecap="butt"/>
<line x1="178.10" y1="517.00" x2="178.10" y2="553.00" stroke="#1f1f1f" stroke-width="1.25" stroke-linecap="butt"/>
<line x1="182.10" y1="517.00" x2="182.10" y2="553.00" stroke="#1f1f1f" stroke-width="1.25" stroke-linecap="butt"/>
<path d="M410.30,579.30 L410.30,516.30 L401.10,516.30 L401.10,579.30" fill="none" stroke="#1f1f1f" stroke-width="1.7" stroke-linejoin="round" />
<line x1="407.70" y1="553.00" x2="403.70" y2="553.00" stroke="#1f1f1f" stroke-width="1.25" stroke-linecap="butt"/>
<line x1="407.70" y1="553.00" x2="408.80" y2="579.30" stroke="#1f1f1f" stroke-width="1.25" stroke-linecap="butt"/>
<line x1="403.70" y1="553.00" x2="402.60" y2="579.30" stroke="#1f1f1f" stroke-width="1.25" stroke-linecap="butt"/>
<line x1="407.70" y1="517.00" x2="407.70" y2="553.00" stroke="#1f1f1f" stroke-width="1.25" stroke-linecap="butt"/>
<line x1="403.70" y1="517.00" x2="403.70" y2="553.00" stroke="#1f1f1f" stroke-width="1.25" stroke-linecap="butt"/>
<path d="M335.00,579.30 L335.00,516.30 L326.00,516.30 L326.00,579.30" fill="none" stroke="#1f1f1f" stroke-width="1.7" stroke-linejoin="round" />
<line x1="332.50" y1="553.00" x2="328.50" y2="553.00" stroke="#1f1f1f" stroke-width="1.25" stroke-linecap="butt"/>
<line x1="332.50" y1="553.00" x2="333.50" y2="579.30" stroke="#1f1f1f" stroke-width="1.25" stroke-linecap="butt"/>
<line x1="328.50" y1="553.00" x2="327.50" y2="579.30" stroke="#1f1f1f" stroke-width="1.25" stroke-linecap="butt"/>
<line x1="332.50" y1="517.00" x2="332.50" y2="553.00" stroke="#1f1f1f" stroke-width="1.25" stroke-linecap="butt"/>
<line x1="328.50" y1="517.00" x2="328.50" y2="553.00" stroke="#1f1f1f" stroke-width="1.25" stroke-linecap="butt"/>
<path d="M251.80,561.00 L251.80,516.30 L259.50,516.30 L259.50,561.00" fill="none" stroke="#1f1f1f" stroke-width="1.25" stroke-linejoin="round" />
<line x1="254.00" y1="517.00" x2="254.00" y2="561.00" stroke="#1f1f1f" stroke-width="1.25" stroke-linecap="butt"/>
<line x1="257.30" y1="517.00" x2="257.30" y2="561.00" stroke="#1f1f1f" stroke-width="1.25" stroke-linecap="butt"/>
<line x1="254.00" y1="552.00" x2="257.30" y2="552.00" stroke="#1f1f1f" stroke-width="1.25" stroke-linecap="butt"/>
<path d="M188.60,579.30 L188.60,492.70 L204.20,492.70" fill="none" stroke="#1f1f1f" stroke-width="1.25" stroke-linejoin="round" />
<line x1="188.60" y1="492.70" x2="195.70" y2="503.40" stroke="#1f1f1f" stroke-width="1.25" stroke-linecap="butt"/>
<line x1="195.70" y1="503.40" x2="204.20" y2="503.40" stroke="#1f1f1f" stroke-width="1.25" stroke-linecap="butt"/>
<line x1="196.60" y1="503.40" x2="196.60" y2="579.30" stroke="#1f1f1f" stroke-width="1.25" stroke-linecap="butt"/>
<line x1="200.10" y1="503.40" x2="200.10" y2="579.30" stroke="#1f1f1f" stroke-width="1.25" stroke-linecap="butt"/>
<path d="M231.70,492.70 L246.50,492.70 L246.50,561.30" fill="none" stroke="#1f1f1f" stroke-width="1.25" stroke-linejoin="round" />
<line x1="246.50" y1="492.70" x2="239.30" y2="503.40" stroke="#1f1f1f" stroke-width="1.25" stroke-linecap="butt"/>
<line x1="231.70" y1="503.40" x2="239.30" y2="503.40" stroke="#1f1f1f" stroke-width="1.25" stroke-linecap="butt"/>
<line x1="236.70" y1="503.40" x2="236.70" y2="561.00" stroke="#1f1f1f" stroke-width="1.25" stroke-linecap="butt"/>
<line x1="239.30" y1="503.40" x2="239.30" y2="561.00" stroke="#1f1f1f" stroke-width="1.25" stroke-linecap="butt"/>
<path d="M322.00,579.30 L322.00,492.70 L306.40,492.70" fill="none" stroke="#1f1f1f" stroke-width="1.25" stroke-linejoin="round" />
<line x1="322.00" y1="492.70" x2="314.90" y2="503.40" stroke="#1f1f1f" stroke-width="1.25" stroke-linecap="butt"/>
<line x1="314.90" y1="503.40" x2="306.40" y2="503.40" stroke="#1f1f1f" stroke-width="1.25" stroke-linecap="butt"/>
<line x1="314.00" y1="503.40" x2="314.00" y2="579.30" stroke="#1f1f1f" stroke-width="1.25" stroke-linecap="butt"/>
<line x1="310.50" y1="503.40" x2="310.50" y2="579.30" stroke="#1f1f1f" stroke-width="1.25" stroke-linecap="butt"/>
<path d="M278.90,492.70 L264.10,492.70 L264.10,561.30" fill="none" stroke="#1f1f1f" stroke-width="1.25" stroke-linejoin="round" />
<line x1="264.10" y1="492.70" x2="271.30" y2="503.40" stroke="#1f1f1f" stroke-width="1.25" stroke-linecap="butt"/>
<line x1="278.90" y1="503.40" x2="271.30" y2="503.40" stroke="#1f1f1f" stroke-width="1.25" stroke-linecap="butt"/>
<line x1="273.90" y1="503.40" x2="273.90" y2="561.00" stroke="#1f1f1f" stroke-width="1.25" stroke-linecap="butt"/>
<line x1="271.30" y1="503.40" x2="271.30" y2="561.00" stroke="#1f1f1f" stroke-width="1.25" stroke-linecap="butt"/>
<rect x="204.20" y="436.60" width="27.50" height="14.20" rx="2.5" fill="#fff" stroke="#1f1f1f" stroke-width="1.3"/>
<line x1="204.20" y1="467.00" x2="204.20" y2="578.00" stroke="#1f1f1f" stroke-width="1.8" stroke-linecap="butt"/>
<line x1="206.80" y1="467.00" x2="206.80" y2="561.00" stroke="#1f1f1f" stroke-width="1.3" stroke-linecap="butt"/>
<line x1="227.80" y1="467.00" x2="227.80" y2="561.00" stroke="#1f1f1f" stroke-width="1.3" stroke-linecap="butt"/>
<line x1="231.20" y1="467.00" x2="231.20" y2="561.00" stroke="#1f1f1f" stroke-width="1.8" stroke-linecap="butt"/>
<line x1="204.20" y1="498.60" x2="231.20" y2="498.60" stroke="#1f1f1f" stroke-width="2.4" stroke-linecap="butt"/>
<line x1="204.20" y1="530.00" x2="231.20" y2="530.00" stroke="#1f1f1f" stroke-width="1.8" stroke-linecap="butt"/>
<line x1="229.80" y1="499.00" x2="223.40" y2="530.00" stroke="#1f1f1f" stroke-width="1.25" stroke-linecap="butt"/>
<line x1="227.00" y1="499.00" x2="221.30" y2="530.00" stroke="#1f1f1f" stroke-width="1.25" stroke-linecap="butt"/>
<line x1="222.40" y1="530.00" x2="222.40" y2="561.00" stroke="#1f1f1f" stroke-width="1.25" stroke-linecap="butt"/>
<line x1="225.00" y1="530.00" x2="225.00" y2="561.00" stroke="#1f1f1f" stroke-width="1.25" stroke-linecap="butt"/>
<path d="M204.2,527 Q201.8,535 204.2,543" fill="none" stroke="#1f1f1f" stroke-width="1.25" stroke-linejoin="round" />
<rect x="278.90" y="436.60" width="27.50" height="14.20" rx="2.5" fill="#fff" stroke="#1f1f1f" stroke-width="1.3"/>
<line x1="306.40" y1="467.00" x2="306.40" y2="578.00" stroke="#1f1f1f" stroke-width="1.8" stroke-linecap="butt"/>
<line x1="303.80" y1="467.00" x2="303.80" y2="561.00" stroke="#1f1f1f" stroke-width="1.3" stroke-linecap="butt"/>
<line x1="282.80" y1="467.00" x2="282.80" y2="561.00" stroke="#1f1f1f" stroke-width="1.3" stroke-linecap="butt"/>
<line x1="279.40" y1="467.00" x2="279.40" y2="561.00" stroke="#1f1f1f" stroke-width="1.8" stroke-linecap="butt"/>
<line x1="306.40" y1="498.60" x2="279.40" y2="498.60" stroke="#1f1f1f" stroke-width="2.4" stroke-linecap="butt"/>
<line x1="306.40" y1="530.00" x2="279.40" y2="530.00" stroke="#1f1f1f" stroke-width="1.8" stroke-linecap="butt"/>
<line x1="280.80" y1="499.00" x2="287.20" y2="530.00" stroke="#1f1f1f" stroke-width="1.25" stroke-linecap="butt"/>
<line x1="283.60" y1="499.00" x2="289.30" y2="530.00" stroke="#1f1f1f" stroke-width="1.25" stroke-linecap="butt"/>
<line x1="288.20" y1="530.00" x2="288.20" y2="561.00" stroke="#1f1f1f" stroke-width="1.25" stroke-linecap="butt"/>
<line x1="285.60" y1="530.00" x2="285.60" y2="561.00" stroke="#1f1f1f" stroke-width="1.25" stroke-linecap="butt"/>
<path d="M306.40000000000003,527 Q308.8,535 306.40000000000003,543" fill="none" stroke="#1f1f1f" stroke-width="1.25" stroke-linejoin="round" />
<line x1="231.70" y1="445.10" x2="279.40" y2="445.10" stroke="#1f1f1f" stroke-width="1.25" stroke-linecap="butt"/>
<line x1="231.70" y1="450.20" x2="279.40" y2="450.20" stroke="#1f1f1f" stroke-width="1.25" stroke-linecap="butt"/>
<rect x="204.20" y="451.00" width="102.80" height="15.20" rx="0" fill="none" stroke="#1f1f1f" stroke-width="1.4"/>
<rect x="206.80" y="454.40" width="97.80" height="11.80" rx="0" fill="none" stroke="#1f1f1f" stroke-width="1.25"/>
<line x1="204.20" y1="467.60" x2="307.00" y2="467.60" stroke="#1f1f1f" stroke-width="1.5" stroke-linecap="butt"/>
<line x1="204.20" y1="451.00" x2="206.80" y2="454.40" stroke="#1f1f1f" stroke-width="1.25" stroke-linecap="butt"/>
<line x1="307.00" y1="451.00" x2="304.60" y2="454.40" stroke="#1f1f1f" stroke-width="1.25" stroke-linecap="butt"/>
<rect x="206.40" y="561.30" width="98.00" height="17.00" rx="0" fill="#fff" stroke="#1f1f1f" stroke-width="1.3"/>
<line x1="206.40" y1="564.00" x2="304.40" y2="564.00" stroke="#1f1f1f" stroke-width="1.25" stroke-linecap="butt"/>
<line x1="206.40" y1="573.50" x2="304.40" y2="573.50" stroke="#1f1f1f" stroke-width="1.25" stroke-linecap="butt"/>
<line x1="232.00" y1="579.30" x2="305.00" y2="579.30" stroke="#1f1f1f" stroke-width="2.0" stroke-linecap="butt"/>
<polygon points="78.4,328.5 60.400000000000006,323.3 60.400000000000006,333.7" fill="#1f1f1f"/>
<line x1="61.40" y1="328.50" x2="45.90" y2="328.50" stroke="#1f1f1f" stroke-width="1.6" stroke-linecap="butt"/>
<polygon points="120.6,328.5 138.6,323.3 138.6,333.7" fill="#1f1f1f"/>
<line x1="137.60" y1="328.50" x2="152.80" y2="328.50" stroke="#1f1f1f" stroke-width="1.6" stroke-linecap="butt"/>
<line x1="120.60" y1="322.60" x2="120.60" y2="357.00" stroke="#1f1f1f" stroke-width="1.25" stroke-linecap="butt"/>
<text x="83.00" y="340.00" font-size="29" textLength="34.50" lengthAdjust="spacingAndGlyphs">5,6</text>
<line x1="271.40" y1="280.30" x2="271.40" y2="357.00" stroke="#1f1f1f" stroke-width="1.25" stroke-linecap="butt"/>
<line x1="268.10" y1="322.60" x2="268.10" y2="357.00" stroke="#1f1f1f" stroke-width="1.25" stroke-linecap="butt"/>
<line x1="274.70" y1="322.60" x2="274.70" y2="357.00" stroke="#1f1f1f" stroke-width="1.25" stroke-linecap="butt"/>
<polygon points="271.4,288.8 253.39999999999998,283.6 253.39999999999998,294.0" fill="#1f1f1f"/>
<line x1="254.40" y1="288.80" x2="239.40" y2="288.80" stroke="#1f1f1f" stroke-width="1.6" stroke-linecap="butt"/>
<polygon points="346.3,288.8 364.3,283.6 364.3,294.0" fill="#1f1f1f"/>
<line x1="363.30" y1="288.80" x2="377.90" y2="288.80" stroke="#1f1f1f" stroke-width="1.6" stroke-linecap="butt"/>
<line x1="346.30" y1="280.30" x2="346.30" y2="357.00" stroke="#1f1f1f" stroke-width="1.25" stroke-linecap="butt"/>
<text x="295.80" y="298.00" font-size="29" textLength="26.40" lengthAdjust="spacingAndGlyphs">10</text>
<polygon points="268.1,328.9 250.10000000000002,323.7 250.10000000000002,334.09999999999997" fill="#1f1f1f"/>
<line x1="251.10" y1="328.90" x2="169.30" y2="328.90" stroke="#1f1f1f" stroke-width="1.6" stroke-linecap="butt"/>
<polygon points="274.7,328.9 292.7,323.7 292.7,334.09999999999997" fill="#1f1f1f"/>
<line x1="291.70" y1="328.90" x2="306.70" y2="328.90" stroke="#1f1f1f" stroke-width="1.6" stroke-linecap="butt"/>
<text x="168.70" y="321.40" font-size="29" textLength="35.50" lengthAdjust="spacingAndGlyphs">0,8</text>
<text x="206.60" y="321.40" font-size="29" textLength="15.00" lengthAdjust="spacingAndGlyphs">x</text>
<text x="224.10" y="321.40" font-size="29" textLength="13.30" lengthAdjust="spacingAndGlyphs">1</text>
<line x1="421.90" y1="323.00" x2="421.90" y2="357.00" stroke="#1f1f1f" stroke-width="1.25" stroke-linecap="butt"/>
<polygon points="421.9,328.9 403.9,323.7 403.9,334.09999999999997" fill="#1f1f1f"/>
<line x1="404.90" y1="328.90" x2="389.60" y2="328.90" stroke="#1f1f1f" stroke-width="1.6" stroke-linecap="butt"/>
<polygon points="432.2,328.9 450.2,323.7 450.2,334.09999999999997" fill="#1f1f1f"/>
<line x1="449.20" y1="328.90" x2="490.70" y2="328.90" stroke="#1f1f1f" stroke-width="1.6" stroke-linecap="butt"/>
<text x="457.00" y="322.00" font-size="29" textLength="33.20" lengthAdjust="spacingAndGlyphs">1,4</text>
<polygon points="49.3,383.7 44.099999999999994,401.7 54.5,401.7" fill="#1f1f1f"/>
<line x1="49.30" y1="400.70" x2="49.30" y2="457.70" stroke="#1f1f1f" stroke-width="1.6" stroke-linecap="butt"/>
<polygon points="49.3,579.3 44.099999999999994,561.3 54.5,561.3" fill="#1f1f1f"/>
<line x1="49.30" y1="562.30" x2="49.30" y2="500.80" stroke="#1f1f1f" stroke-width="1.6" stroke-linecap="butt"/>
<text transform="translate(59.40,494.60) rotate(-90)" x="0" y="0" font-size="29" textLength="30.40" lengthAdjust="spacingAndGlyphs">26</text>
</svg>
</body></html>
